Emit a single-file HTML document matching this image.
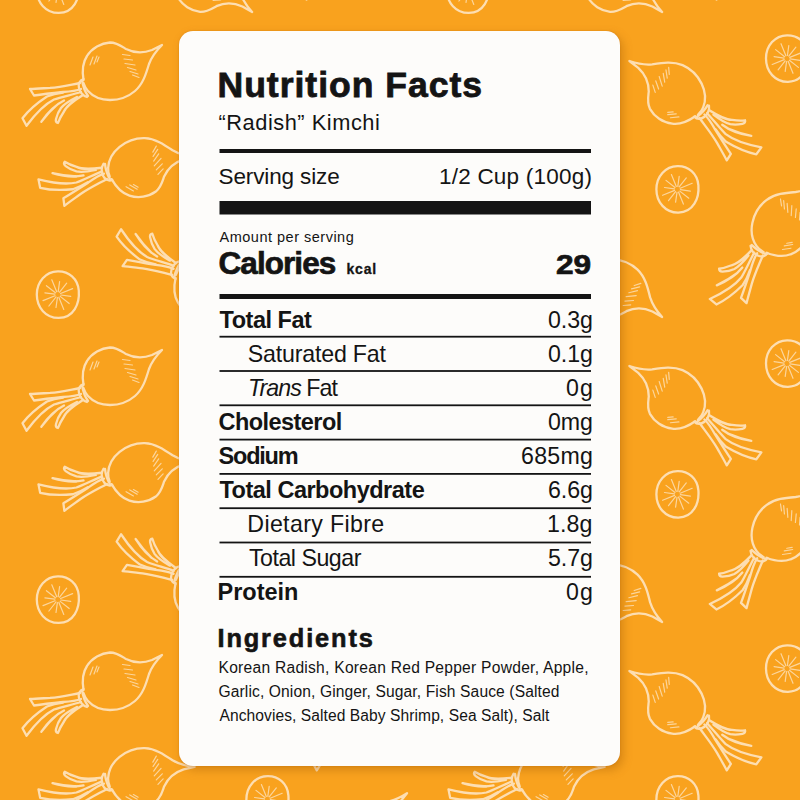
<!DOCTYPE html>
<html><head><meta charset="utf-8"><style>
html,body{margin:0;padding:0;width:800px;height:800px;overflow:hidden;background:#F9A21E;}
#bg{position:absolute;left:0;top:0;width:800px;height:800px;}
#card{position:absolute;left:179.4px;top:31px;width:441px;height:734.5px;background:#FDFCFA;border-radius:14px;
box-shadow:3px 4px 10px rgba(150,80,0,0.35),0 0 1.5px rgba(190,95,0,0.5);}
.t{position:absolute;font-family:"Liberation Sans",sans-serif;color:#141414;white-space:nowrap;line-height:1;}
.bar{position:absolute;left:219.5px;width:371.5px;background:#141414;}
</style></head><body>
<svg id="bg" width="800" height="800" viewBox="0 0 800 800"><style>#bg path{fill:none;stroke:#FDDEB2;stroke-width:2.3;stroke-linecap:round;stroke-linejoin:round} #bg path.h{stroke-width:1.2;opacity:0.85}</style><g transform="translate(111.0,72.0) rotate(0)"><path d="M-27.5,8 C-29,-1 -28,-10 -24,-16 C-19,-24 -10,-29 -1,-29.5 C6,-29.5 11,-25.5 15,-23 C22,-19.5 32,-18.5 41,-22 C45,-24 48,-25.5 51,-27 C46,-22 41,-16 38,-8 C35,2 32,12 24,19 C17,25 8,28 -1,28 C-10,28 -18,24.5 -23,19 C-25,17 -26.5,14 -27.5,11"/><path d="M-27.5,7 C-31.5,8 -33,12 -32,16 C-31,20 -28.5,23.5 -24,25 M-29,8.5 C-28,14 -26.5,19 -23,24"/><path d="M-31,11 C-42,13 -50,15 -61,15.9 C-68,16.3 -75,16.8 -81,17 L-77,23.5 C-70,22.5 -62,21.5 -48,20 C-40,19.5 -35,19 -30,17"/><path d="M-30,20 C-40,23 -50,25 -57,27.5 C-66,32 -75,41 -84.5,53.8 L-88.5,46.2 C-83,39 -77,33 -64,24.5 C-58,22 -52,21 -48,20.5"/><path d="M-47,28.5 C-56,33 -63,40 -69.7,49.8 C-66,45 -60,38 -53,32"/><path d="M-28,23 C-36,28 -44,33 -47,39.5 C-50,44 -52,48 -53,51 C-55,50.5 -55.5,49 -55,47 C-54,43 -53,40 -50,36 C-46,31 -40,28 -34,25"/><path class="h" d="M-21,-7 L-18,-15 M-17,-8 L-14,-16 M-14,-10 L-12,-15 M11.5,-17.5 L19,-16.5 M13,-13 L21.5,-12 M14,-8.5 L24,-7 M16.5,-4.5 L25,-2 M19,-0.5 L27,2 M21.5,3 L28,5.5"/></g><g transform="translate(111.0,377.0) rotate(0)"><path d="M-27.5,8 C-29,-1 -28,-10 -24,-16 C-19,-24 -10,-29 -1,-29.5 C6,-29.5 11,-25.5 15,-23 C22,-19.5 32,-18.5 41,-22 C45,-24 48,-25.5 51,-27 C46,-22 41,-16 38,-8 C35,2 32,12 24,19 C17,25 8,28 -1,28 C-10,28 -18,24.5 -23,19 C-25,17 -26.5,14 -27.5,11"/><path d="M-27.5,7 C-31.5,8 -33,12 -32,16 C-31,20 -28.5,23.5 -24,25 M-29,8.5 C-28,14 -26.5,19 -23,24"/><path d="M-31,11 C-42,13 -50,15 -61,15.9 C-68,16.3 -75,16.8 -81,17 L-77,23.5 C-70,22.5 -62,21.5 -48,20 C-40,19.5 -35,19 -30,17"/><path d="M-30,20 C-40,23 -50,25 -57,27.5 C-66,32 -75,41 -84.5,53.8 L-88.5,46.2 C-83,39 -77,33 -64,24.5 C-58,22 -52,21 -48,20.5"/><path d="M-47,28.5 C-56,33 -63,40 -69.7,49.8 C-66,45 -60,38 -53,32"/><path d="M-28,23 C-36,28 -44,33 -47,39.5 C-50,44 -52,48 -53,51 C-55,50.5 -55.5,49 -55,47 C-54,43 -53,40 -50,36 C-46,31 -40,28 -34,25"/><path class="h" d="M-21,-7 L-18,-15 M-17,-8 L-14,-16 M-14,-10 L-12,-15 M11.5,-17.5 L19,-16.5 M13,-13 L21.5,-12 M14,-8.5 L24,-7 M16.5,-4.5 L25,-2 M19,-0.5 L27,2 M21.5,3 L28,5.5"/></g><g transform="translate(111.0,682.0) rotate(0)"><path d="M-27.5,8 C-29,-1 -28,-10 -24,-16 C-19,-24 -10,-29 -1,-29.5 C6,-29.5 11,-25.5 15,-23 C22,-19.5 32,-18.5 41,-22 C45,-24 48,-25.5 51,-27 C46,-22 41,-16 38,-8 C35,2 32,12 24,19 C17,25 8,28 -1,28 C-10,28 -18,24.5 -23,19 C-25,17 -26.5,14 -27.5,11"/><path d="M-27.5,7 C-31.5,8 -33,12 -32,16 C-31,20 -28.5,23.5 -24,25 M-29,8.5 C-28,14 -26.5,19 -23,24"/><path d="M-31,11 C-42,13 -50,15 -61,15.9 C-68,16.3 -75,16.8 -81,17 L-77,23.5 C-70,22.5 -62,21.5 -48,20 C-40,19.5 -35,19 -30,17"/><path d="M-30,20 C-40,23 -50,25 -57,27.5 C-66,32 -75,41 -84.5,53.8 L-88.5,46.2 C-83,39 -77,33 -64,24.5 C-58,22 -52,21 -48,20.5"/><path d="M-47,28.5 C-56,33 -63,40 -69.7,49.8 C-66,45 -60,38 -53,32"/><path d="M-28,23 C-36,28 -44,33 -47,39.5 C-50,44 -52,48 -53,51 C-55,50.5 -55.5,49 -55,47 C-54,43 -53,40 -50,36 C-46,31 -40,28 -34,25"/><path class="h" d="M-21,-7 L-18,-15 M-17,-8 L-14,-16 M-14,-10 L-12,-15 M11.5,-17.5 L19,-16.5 M13,-13 L21.5,-12 M14,-8.5 L24,-7 M16.5,-4.5 L25,-2 M19,-0.5 L27,2 M21.5,3 L28,5.5"/></g><g transform="translate(521.0,72.0) rotate(0)"><path d="M-27.5,8 C-29,-1 -28,-10 -24,-16 C-19,-24 -10,-29 -1,-29.5 C6,-29.5 11,-25.5 15,-23 C22,-19.5 32,-18.5 41,-22 C45,-24 48,-25.5 51,-27 C46,-22 41,-16 38,-8 C35,2 32,12 24,19 C17,25 8,28 -1,28 C-10,28 -18,24.5 -23,19 C-25,17 -26.5,14 -27.5,11"/><path d="M-27.5,7 C-31.5,8 -33,12 -32,16 C-31,20 -28.5,23.5 -24,25 M-29,8.5 C-28,14 -26.5,19 -23,24"/><path d="M-31,11 C-42,13 -50,15 -61,15.9 C-68,16.3 -75,16.8 -81,17 L-77,23.5 C-70,22.5 -62,21.5 -48,20 C-40,19.5 -35,19 -30,17"/><path d="M-30,20 C-40,23 -50,25 -57,27.5 C-66,32 -75,41 -84.5,53.8 L-88.5,46.2 C-83,39 -77,33 -64,24.5 C-58,22 -52,21 -48,20.5"/><path d="M-47,28.5 C-56,33 -63,40 -69.7,49.8 C-66,45 -60,38 -53,32"/><path d="M-28,23 C-36,28 -44,33 -47,39.5 C-50,44 -52,48 -53,51 C-55,50.5 -55.5,49 -55,47 C-54,43 -53,40 -50,36 C-46,31 -40,28 -34,25"/><path class="h" d="M-21,-7 L-18,-15 M-17,-8 L-14,-16 M-14,-10 L-12,-15 M11.5,-17.5 L19,-16.5 M13,-13 L21.5,-12 M14,-8.5 L24,-7 M16.5,-4.5 L25,-2 M19,-0.5 L27,2 M21.5,3 L28,5.5"/></g><g transform="translate(521.0,377.0) rotate(0)"><path d="M-27.5,8 C-29,-1 -28,-10 -24,-16 C-19,-24 -10,-29 -1,-29.5 C6,-29.5 11,-25.5 15,-23 C22,-19.5 32,-18.5 41,-22 C45,-24 48,-25.5 51,-27 C46,-22 41,-16 38,-8 C35,2 32,12 24,19 C17,25 8,28 -1,28 C-10,28 -18,24.5 -23,19 C-25,17 -26.5,14 -27.5,11"/><path d="M-27.5,7 C-31.5,8 -33,12 -32,16 C-31,20 -28.5,23.5 -24,25 M-29,8.5 C-28,14 -26.5,19 -23,24"/><path d="M-31,11 C-42,13 -50,15 -61,15.9 C-68,16.3 -75,16.8 -81,17 L-77,23.5 C-70,22.5 -62,21.5 -48,20 C-40,19.5 -35,19 -30,17"/><path d="M-30,20 C-40,23 -50,25 -57,27.5 C-66,32 -75,41 -84.5,53.8 L-88.5,46.2 C-83,39 -77,33 -64,24.5 C-58,22 -52,21 -48,20.5"/><path d="M-47,28.5 C-56,33 -63,40 -69.7,49.8 C-66,45 -60,38 -53,32"/><path d="M-28,23 C-36,28 -44,33 -47,39.5 C-50,44 -52,48 -53,51 C-55,50.5 -55.5,49 -55,47 C-54,43 -53,40 -50,36 C-46,31 -40,28 -34,25"/><path class="h" d="M-21,-7 L-18,-15 M-17,-8 L-14,-16 M-14,-10 L-12,-15 M11.5,-17.5 L19,-16.5 M13,-13 L21.5,-12 M14,-8.5 L24,-7 M16.5,-4.5 L25,-2 M19,-0.5 L27,2 M21.5,3 L28,5.5"/></g><g transform="translate(521.0,682.0) rotate(0)"><path d="M-27.5,8 C-29,-1 -28,-10 -24,-16 C-19,-24 -10,-29 -1,-29.5 C6,-29.5 11,-25.5 15,-23 C22,-19.5 32,-18.5 41,-22 C45,-24 48,-25.5 51,-27 C46,-22 41,-16 38,-8 C35,2 32,12 24,19 C17,25 8,28 -1,28 C-10,28 -18,24.5 -23,19 C-25,17 -26.5,14 -27.5,11"/><path d="M-27.5,7 C-31.5,8 -33,12 -32,16 C-31,20 -28.5,23.5 -24,25 M-29,8.5 C-28,14 -26.5,19 -23,24"/><path d="M-31,11 C-42,13 -50,15 -61,15.9 C-68,16.3 -75,16.8 -81,17 L-77,23.5 C-70,22.5 -62,21.5 -48,20 C-40,19.5 -35,19 -30,17"/><path d="M-30,20 C-40,23 -50,25 -57,27.5 C-66,32 -75,41 -84.5,53.8 L-88.5,46.2 C-83,39 -77,33 -64,24.5 C-58,22 -52,21 -48,20.5"/><path d="M-47,28.5 C-56,33 -63,40 -69.7,49.8 C-66,45 -60,38 -53,32"/><path d="M-28,23 C-36,28 -44,33 -47,39.5 C-50,44 -52,48 -53,51 C-55,50.5 -55.5,49 -55,47 C-54,43 -53,40 -50,36 C-46,31 -40,28 -34,25"/><path class="h" d="M-21,-7 L-18,-15 M-17,-8 L-14,-16 M-14,-10 L-12,-15 M11.5,-17.5 L19,-16.5 M13,-13 L21.5,-12 M14,-8.5 L24,-7 M16.5,-4.5 L25,-2 M19,-0.5 L27,2 M21.5,3 L28,5.5"/></g><g transform="translate(138.0,168.0) rotate(-39) scale(1,-1)"><path d="M-27.5,8 C-29,-1 -28,-10 -24,-16 C-19,-24 -10,-29 -1,-29.5 C6,-29.5 11,-25.5 15,-23 C22,-19.5 32,-18.5 41,-22 C45,-24 48,-25.5 51,-27 C46,-22 41,-16 38,-8 C35,2 32,12 24,19 C17,25 8,28 -1,28 C-10,28 -18,24.5 -23,19 C-25,17 -26.5,14 -27.5,11"/><path d="M-27.5,7 C-31.5,8 -33,12 -32,16 C-31,20 -28.5,23.5 -24,25 M-29,8.5 C-28,14 -26.5,19 -23,24"/><path d="M-31,11 C-42,13 -50,15 -61,15.9 C-68,16.3 -75,16.8 -81,17 L-77,23.5 C-70,22.5 -62,21.5 -48,20 C-40,19.5 -35,19 -30,17"/><path d="M-30,20 C-40,23 -50,25 -57,27.5 C-66,32 -75,41 -84.5,53.8 L-88.5,46.2 C-83,39 -77,33 -64,24.5 C-58,22 -52,21 -48,20.5"/><path d="M-47,28.5 C-56,33 -63,40 -69.7,49.8 C-66,45 -60,38 -53,32"/><path d="M-28,23 C-36,28 -44,33 -47,39.5 C-50,44 -52,48 -53,51 C-55,50.5 -55.5,49 -55,47 C-54,43 -53,40 -50,36 C-46,31 -40,28 -34,25"/><path class="h" d="M-21,-7 L-18,-15 M-17,-8 L-14,-16 M-14,-10 L-12,-15 M11.5,-17.5 L19,-16.5 M13,-13 L21.5,-12 M14,-8.5 L24,-7 M16.5,-4.5 L25,-2 M19,-0.5 L27,2 M21.5,3 L28,5.5"/></g><g transform="translate(138.0,473.0) rotate(-39) scale(1,-1)"><path d="M-27.5,8 C-29,-1 -28,-10 -24,-16 C-19,-24 -10,-29 -1,-29.5 C6,-29.5 11,-25.5 15,-23 C22,-19.5 32,-18.5 41,-22 C45,-24 48,-25.5 51,-27 C46,-22 41,-16 38,-8 C35,2 32,12 24,19 C17,25 8,28 -1,28 C-10,28 -18,24.5 -23,19 C-25,17 -26.5,14 -27.5,11"/><path d="M-27.5,7 C-31.5,8 -33,12 -32,16 C-31,20 -28.5,23.5 -24,25 M-29,8.5 C-28,14 -26.5,19 -23,24"/><path d="M-31,11 C-42,13 -50,15 -61,15.9 C-68,16.3 -75,16.8 -81,17 L-77,23.5 C-70,22.5 -62,21.5 -48,20 C-40,19.5 -35,19 -30,17"/><path d="M-30,20 C-40,23 -50,25 -57,27.5 C-66,32 -75,41 -84.5,53.8 L-88.5,46.2 C-83,39 -77,33 -64,24.5 C-58,22 -52,21 -48,20.5"/><path d="M-47,28.5 C-56,33 -63,40 -69.7,49.8 C-66,45 -60,38 -53,32"/><path d="M-28,23 C-36,28 -44,33 -47,39.5 C-50,44 -52,48 -53,51 C-55,50.5 -55.5,49 -55,47 C-54,43 -53,40 -50,36 C-46,31 -40,28 -34,25"/><path class="h" d="M-21,-7 L-18,-15 M-17,-8 L-14,-16 M-14,-10 L-12,-15 M11.5,-17.5 L19,-16.5 M13,-13 L21.5,-12 M14,-8.5 L24,-7 M16.5,-4.5 L25,-2 M19,-0.5 L27,2 M21.5,3 L28,5.5"/></g><g transform="translate(138.0,778.0) rotate(-39) scale(1,-1)"><path d="M-27.5,8 C-29,-1 -28,-10 -24,-16 C-19,-24 -10,-29 -1,-29.5 C6,-29.5 11,-25.5 15,-23 C22,-19.5 32,-18.5 41,-22 C45,-24 48,-25.5 51,-27 C46,-22 41,-16 38,-8 C35,2 32,12 24,19 C17,25 8,28 -1,28 C-10,28 -18,24.5 -23,19 C-25,17 -26.5,14 -27.5,11"/><path d="M-27.5,7 C-31.5,8 -33,12 -32,16 C-31,20 -28.5,23.5 -24,25 M-29,8.5 C-28,14 -26.5,19 -23,24"/><path d="M-31,11 C-42,13 -50,15 -61,15.9 C-68,16.3 -75,16.8 -81,17 L-77,23.5 C-70,22.5 -62,21.5 -48,20 C-40,19.5 -35,19 -30,17"/><path d="M-30,20 C-40,23 -50,25 -57,27.5 C-66,32 -75,41 -84.5,53.8 L-88.5,46.2 C-83,39 -77,33 -64,24.5 C-58,22 -52,21 -48,20.5"/><path d="M-47,28.5 C-56,33 -63,40 -69.7,49.8 C-66,45 -60,38 -53,32"/><path d="M-28,23 C-36,28 -44,33 -47,39.5 C-50,44 -52,48 -53,51 C-55,50.5 -55.5,49 -55,47 C-54,43 -53,40 -50,36 C-46,31 -40,28 -34,25"/><path class="h" d="M-21,-7 L-18,-15 M-17,-8 L-14,-16 M-14,-10 L-12,-15 M11.5,-17.5 L19,-16.5 M13,-13 L21.5,-12 M14,-8.5 L24,-7 M16.5,-4.5 L25,-2 M19,-0.5 L27,2 M21.5,3 L28,5.5"/></g><g transform="translate(548.0,168.0) rotate(-39) scale(1,-1)"><path d="M-27.5,8 C-29,-1 -28,-10 -24,-16 C-19,-24 -10,-29 -1,-29.5 C6,-29.5 11,-25.5 15,-23 C22,-19.5 32,-18.5 41,-22 C45,-24 48,-25.5 51,-27 C46,-22 41,-16 38,-8 C35,2 32,12 24,19 C17,25 8,28 -1,28 C-10,28 -18,24.5 -23,19 C-25,17 -26.5,14 -27.5,11"/><path d="M-27.5,7 C-31.5,8 -33,12 -32,16 C-31,20 -28.5,23.5 -24,25 M-29,8.5 C-28,14 -26.5,19 -23,24"/><path d="M-31,11 C-42,13 -50,15 -61,15.9 C-68,16.3 -75,16.8 -81,17 L-77,23.5 C-70,22.5 -62,21.5 -48,20 C-40,19.5 -35,19 -30,17"/><path d="M-30,20 C-40,23 -50,25 -57,27.5 C-66,32 -75,41 -84.5,53.8 L-88.5,46.2 C-83,39 -77,33 -64,24.5 C-58,22 -52,21 -48,20.5"/><path d="M-47,28.5 C-56,33 -63,40 -69.7,49.8 C-66,45 -60,38 -53,32"/><path d="M-28,23 C-36,28 -44,33 -47,39.5 C-50,44 -52,48 -53,51 C-55,50.5 -55.5,49 -55,47 C-54,43 -53,40 -50,36 C-46,31 -40,28 -34,25"/><path class="h" d="M-21,-7 L-18,-15 M-17,-8 L-14,-16 M-14,-10 L-12,-15 M11.5,-17.5 L19,-16.5 M13,-13 L21.5,-12 M14,-8.5 L24,-7 M16.5,-4.5 L25,-2 M19,-0.5 L27,2 M21.5,3 L28,5.5"/></g><g transform="translate(548.0,473.0) rotate(-39) scale(1,-1)"><path d="M-27.5,8 C-29,-1 -28,-10 -24,-16 C-19,-24 -10,-29 -1,-29.5 C6,-29.5 11,-25.5 15,-23 C22,-19.5 32,-18.5 41,-22 C45,-24 48,-25.5 51,-27 C46,-22 41,-16 38,-8 C35,2 32,12 24,19 C17,25 8,28 -1,28 C-10,28 -18,24.5 -23,19 C-25,17 -26.5,14 -27.5,11"/><path d="M-27.5,7 C-31.5,8 -33,12 -32,16 C-31,20 -28.5,23.5 -24,25 M-29,8.5 C-28,14 -26.5,19 -23,24"/><path d="M-31,11 C-42,13 -50,15 -61,15.9 C-68,16.3 -75,16.8 -81,17 L-77,23.5 C-70,22.5 -62,21.5 -48,20 C-40,19.5 -35,19 -30,17"/><path d="M-30,20 C-40,23 -50,25 -57,27.5 C-66,32 -75,41 -84.5,53.8 L-88.5,46.2 C-83,39 -77,33 -64,24.5 C-58,22 -52,21 -48,20.5"/><path d="M-47,28.5 C-56,33 -63,40 -69.7,49.8 C-66,45 -60,38 -53,32"/><path d="M-28,23 C-36,28 -44,33 -47,39.5 C-50,44 -52,48 -53,51 C-55,50.5 -55.5,49 -55,47 C-54,43 -53,40 -50,36 C-46,31 -40,28 -34,25"/><path class="h" d="M-21,-7 L-18,-15 M-17,-8 L-14,-16 M-14,-10 L-12,-15 M11.5,-17.5 L19,-16.5 M13,-13 L21.5,-12 M14,-8.5 L24,-7 M16.5,-4.5 L25,-2 M19,-0.5 L27,2 M21.5,3 L28,5.5"/></g><g transform="translate(548.0,778.0) rotate(-39) scale(1,-1)"><path d="M-27.5,8 C-29,-1 -28,-10 -24,-16 C-19,-24 -10,-29 -1,-29.5 C6,-29.5 11,-25.5 15,-23 C22,-19.5 32,-18.5 41,-22 C45,-24 48,-25.5 51,-27 C46,-22 41,-16 38,-8 C35,2 32,12 24,19 C17,25 8,28 -1,28 C-10,28 -18,24.5 -23,19 C-25,17 -26.5,14 -27.5,11"/><path d="M-27.5,7 C-31.5,8 -33,12 -32,16 C-31,20 -28.5,23.5 -24,25 M-29,8.5 C-28,14 -26.5,19 -23,24"/><path d="M-31,11 C-42,13 -50,15 -61,15.9 C-68,16.3 -75,16.8 -81,17 L-77,23.5 C-70,22.5 -62,21.5 -48,20 C-40,19.5 -35,19 -30,17"/><path d="M-30,20 C-40,23 -50,25 -57,27.5 C-66,32 -75,41 -84.5,53.8 L-88.5,46.2 C-83,39 -77,33 -64,24.5 C-58,22 -52,21 -48,20.5"/><path d="M-47,28.5 C-56,33 -63,40 -69.7,49.8 C-66,45 -60,38 -53,32"/><path d="M-28,23 C-36,28 -44,33 -47,39.5 C-50,44 -52,48 -53,51 C-55,50.5 -55.5,49 -55,47 C-54,43 -53,40 -50,36 C-46,31 -40,28 -34,25"/><path class="h" d="M-21,-7 L-18,-15 M-17,-8 L-14,-16 M-14,-10 L-12,-15 M11.5,-17.5 L19,-16.5 M13,-13 L21.5,-12 M14,-8.5 L24,-7 M16.5,-4.5 L25,-2 M19,-0.5 L27,2 M21.5,3 L28,5.5"/></g><g transform="translate(202.6,-17.6) rotate(3) scale(1,-1)"><path d="M-27.5,8 C-29,-1 -28,-10 -24,-16 C-19,-24 -10,-29 -1,-29.5 C6,-29.5 11,-25.5 15,-23 C22,-19.5 32,-18.5 41,-22 C45,-24 48,-25.5 51,-27 C46,-22 41,-16 38,-8 C35,2 32,12 24,19 C17,25 8,28 -1,28 C-10,28 -18,24.5 -23,19 C-25,17 -26.5,14 -27.5,11"/><path d="M-27.5,7 C-31.5,8 -33,12 -32,16 C-31,20 -28.5,23.5 -24,25 M-29,8.5 C-28,14 -26.5,19 -23,24"/><path d="M-31,11 C-42,13 -50,15 -61,15.9 C-68,16.3 -75,16.8 -81,17 L-77,23.5 C-70,22.5 -62,21.5 -48,20 C-40,19.5 -35,19 -30,17"/><path d="M-30,20 C-40,23 -50,25 -57,27.5 C-66,32 -75,41 -84.5,53.8 L-88.5,46.2 C-83,39 -77,33 -64,24.5 C-58,22 -52,21 -48,20.5"/><path d="M-47,28.5 C-56,33 -63,40 -69.7,49.8 C-66,45 -60,38 -53,32"/><path d="M-28,23 C-36,28 -44,33 -47,39.5 C-50,44 -52,48 -53,51 C-55,50.5 -55.5,49 -55,47 C-54,43 -53,40 -50,36 C-46,31 -40,28 -34,25"/><path class="h" d="M-21,-7 L-18,-15 M-17,-8 L-14,-16 M-14,-10 L-12,-15 M11.5,-17.5 L19,-16.5 M13,-13 L21.5,-12 M14,-8.5 L24,-7 M16.5,-4.5 L25,-2 M19,-0.5 L27,2 M21.5,3 L28,5.5"/></g><g transform="translate(202.6,287.4) rotate(3) scale(1,-1)"><path d="M-27.5,8 C-29,-1 -28,-10 -24,-16 C-19,-24 -10,-29 -1,-29.5 C6,-29.5 11,-25.5 15,-23 C22,-19.5 32,-18.5 41,-22 C45,-24 48,-25.5 51,-27 C46,-22 41,-16 38,-8 C35,2 32,12 24,19 C17,25 8,28 -1,28 C-10,28 -18,24.5 -23,19 C-25,17 -26.5,14 -27.5,11"/><path d="M-27.5,7 C-31.5,8 -33,12 -32,16 C-31,20 -28.5,23.5 -24,25 M-29,8.5 C-28,14 -26.5,19 -23,24"/><path d="M-31,11 C-42,13 -50,15 -61,15.9 C-68,16.3 -75,16.8 -81,17 L-77,23.5 C-70,22.5 -62,21.5 -48,20 C-40,19.5 -35,19 -30,17"/><path d="M-30,20 C-40,23 -50,25 -57,27.5 C-66,32 -75,41 -84.5,53.8 L-88.5,46.2 C-83,39 -77,33 -64,24.5 C-58,22 -52,21 -48,20.5"/><path d="M-47,28.5 C-56,33 -63,40 -69.7,49.8 C-66,45 -60,38 -53,32"/><path d="M-28,23 C-36,28 -44,33 -47,39.5 C-50,44 -52,48 -53,51 C-55,50.5 -55.5,49 -55,47 C-54,43 -53,40 -50,36 C-46,31 -40,28 -34,25"/><path class="h" d="M-21,-7 L-18,-15 M-17,-8 L-14,-16 M-14,-10 L-12,-15 M11.5,-17.5 L19,-16.5 M13,-13 L21.5,-12 M14,-8.5 L24,-7 M16.5,-4.5 L25,-2 M19,-0.5 L27,2 M21.5,3 L28,5.5"/></g><g transform="translate(202.6,592.4) rotate(3) scale(1,-1)"><path d="M-27.5,8 C-29,-1 -28,-10 -24,-16 C-19,-24 -10,-29 -1,-29.5 C6,-29.5 11,-25.5 15,-23 C22,-19.5 32,-18.5 41,-22 C45,-24 48,-25.5 51,-27 C46,-22 41,-16 38,-8 C35,2 32,12 24,19 C17,25 8,28 -1,28 C-10,28 -18,24.5 -23,19 C-25,17 -26.5,14 -27.5,11"/><path d="M-27.5,7 C-31.5,8 -33,12 -32,16 C-31,20 -28.5,23.5 -24,25 M-29,8.5 C-28,14 -26.5,19 -23,24"/><path d="M-31,11 C-42,13 -50,15 -61,15.9 C-68,16.3 -75,16.8 -81,17 L-77,23.5 C-70,22.5 -62,21.5 -48,20 C-40,19.5 -35,19 -30,17"/><path d="M-30,20 C-40,23 -50,25 -57,27.5 C-66,32 -75,41 -84.5,53.8 L-88.5,46.2 C-83,39 -77,33 -64,24.5 C-58,22 -52,21 -48,20.5"/><path d="M-47,28.5 C-56,33 -63,40 -69.7,49.8 C-66,45 -60,38 -53,32"/><path d="M-28,23 C-36,28 -44,33 -47,39.5 C-50,44 -52,48 -53,51 C-55,50.5 -55.5,49 -55,47 C-54,43 -53,40 -50,36 C-46,31 -40,28 -34,25"/><path class="h" d="M-21,-7 L-18,-15 M-17,-8 L-14,-16 M-14,-10 L-12,-15 M11.5,-17.5 L19,-16.5 M13,-13 L21.5,-12 M14,-8.5 L24,-7 M16.5,-4.5 L25,-2 M19,-0.5 L27,2 M21.5,3 L28,5.5"/></g><g transform="translate(202.6,897.4) rotate(3) scale(1,-1)"><path d="M-27.5,8 C-29,-1 -28,-10 -24,-16 C-19,-24 -10,-29 -1,-29.5 C6,-29.5 11,-25.5 15,-23 C22,-19.5 32,-18.5 41,-22 C45,-24 48,-25.5 51,-27 C46,-22 41,-16 38,-8 C35,2 32,12 24,19 C17,25 8,28 -1,28 C-10,28 -18,24.5 -23,19 C-25,17 -26.5,14 -27.5,11"/><path d="M-27.5,7 C-31.5,8 -33,12 -32,16 C-31,20 -28.5,23.5 -24,25 M-29,8.5 C-28,14 -26.5,19 -23,24"/><path d="M-31,11 C-42,13 -50,15 -61,15.9 C-68,16.3 -75,16.8 -81,17 L-77,23.5 C-70,22.5 -62,21.5 -48,20 C-40,19.5 -35,19 -30,17"/><path d="M-30,20 C-40,23 -50,25 -57,27.5 C-66,32 -75,41 -84.5,53.8 L-88.5,46.2 C-83,39 -77,33 -64,24.5 C-58,22 -52,21 -48,20.5"/><path d="M-47,28.5 C-56,33 -63,40 -69.7,49.8 C-66,45 -60,38 -53,32"/><path d="M-28,23 C-36,28 -44,33 -47,39.5 C-50,44 -52,48 -53,51 C-55,50.5 -55.5,49 -55,47 C-54,43 -53,40 -50,36 C-46,31 -40,28 -34,25"/><path class="h" d="M-21,-7 L-18,-15 M-17,-8 L-14,-16 M-14,-10 L-12,-15 M11.5,-17.5 L19,-16.5 M13,-13 L21.5,-12 M14,-8.5 L24,-7 M16.5,-4.5 L25,-2 M19,-0.5 L27,2 M21.5,3 L28,5.5"/></g><g transform="translate(612.6,-17.6) rotate(3) scale(1,-1)"><path d="M-27.5,8 C-29,-1 -28,-10 -24,-16 C-19,-24 -10,-29 -1,-29.5 C6,-29.5 11,-25.5 15,-23 C22,-19.5 32,-18.5 41,-22 C45,-24 48,-25.5 51,-27 C46,-22 41,-16 38,-8 C35,2 32,12 24,19 C17,25 8,28 -1,28 C-10,28 -18,24.5 -23,19 C-25,17 -26.5,14 -27.5,11"/><path d="M-27.5,7 C-31.5,8 -33,12 -32,16 C-31,20 -28.5,23.5 -24,25 M-29,8.5 C-28,14 -26.5,19 -23,24"/><path d="M-31,11 C-42,13 -50,15 -61,15.9 C-68,16.3 -75,16.8 -81,17 L-77,23.5 C-70,22.5 -62,21.5 -48,20 C-40,19.5 -35,19 -30,17"/><path d="M-30,20 C-40,23 -50,25 -57,27.5 C-66,32 -75,41 -84.5,53.8 L-88.5,46.2 C-83,39 -77,33 -64,24.5 C-58,22 -52,21 -48,20.5"/><path d="M-47,28.5 C-56,33 -63,40 -69.7,49.8 C-66,45 -60,38 -53,32"/><path d="M-28,23 C-36,28 -44,33 -47,39.5 C-50,44 -52,48 -53,51 C-55,50.5 -55.5,49 -55,47 C-54,43 -53,40 -50,36 C-46,31 -40,28 -34,25"/><path class="h" d="M-21,-7 L-18,-15 M-17,-8 L-14,-16 M-14,-10 L-12,-15 M11.5,-17.5 L19,-16.5 M13,-13 L21.5,-12 M14,-8.5 L24,-7 M16.5,-4.5 L25,-2 M19,-0.5 L27,2 M21.5,3 L28,5.5"/></g><g transform="translate(612.6,287.4) rotate(3) scale(1,-1)"><path d="M-27.5,8 C-29,-1 -28,-10 -24,-16 C-19,-24 -10,-29 -1,-29.5 C6,-29.5 11,-25.5 15,-23 C22,-19.5 32,-18.5 41,-22 C45,-24 48,-25.5 51,-27 C46,-22 41,-16 38,-8 C35,2 32,12 24,19 C17,25 8,28 -1,28 C-10,28 -18,24.5 -23,19 C-25,17 -26.5,14 -27.5,11"/><path d="M-27.5,7 C-31.5,8 -33,12 -32,16 C-31,20 -28.5,23.5 -24,25 M-29,8.5 C-28,14 -26.5,19 -23,24"/><path d="M-31,11 C-42,13 -50,15 -61,15.9 C-68,16.3 -75,16.8 -81,17 L-77,23.5 C-70,22.5 -62,21.5 -48,20 C-40,19.5 -35,19 -30,17"/><path d="M-30,20 C-40,23 -50,25 -57,27.5 C-66,32 -75,41 -84.5,53.8 L-88.5,46.2 C-83,39 -77,33 -64,24.5 C-58,22 -52,21 -48,20.5"/><path d="M-47,28.5 C-56,33 -63,40 -69.7,49.8 C-66,45 -60,38 -53,32"/><path d="M-28,23 C-36,28 -44,33 -47,39.5 C-50,44 -52,48 -53,51 C-55,50.5 -55.5,49 -55,47 C-54,43 -53,40 -50,36 C-46,31 -40,28 -34,25"/><path class="h" d="M-21,-7 L-18,-15 M-17,-8 L-14,-16 M-14,-10 L-12,-15 M11.5,-17.5 L19,-16.5 M13,-13 L21.5,-12 M14,-8.5 L24,-7 M16.5,-4.5 L25,-2 M19,-0.5 L27,2 M21.5,3 L28,5.5"/></g><g transform="translate(612.6,592.4) rotate(3) scale(1,-1)"><path d="M-27.5,8 C-29,-1 -28,-10 -24,-16 C-19,-24 -10,-29 -1,-29.5 C6,-29.5 11,-25.5 15,-23 C22,-19.5 32,-18.5 41,-22 C45,-24 48,-25.5 51,-27 C46,-22 41,-16 38,-8 C35,2 32,12 24,19 C17,25 8,28 -1,28 C-10,28 -18,24.5 -23,19 C-25,17 -26.5,14 -27.5,11"/><path d="M-27.5,7 C-31.5,8 -33,12 -32,16 C-31,20 -28.5,23.5 -24,25 M-29,8.5 C-28,14 -26.5,19 -23,24"/><path d="M-31,11 C-42,13 -50,15 -61,15.9 C-68,16.3 -75,16.8 -81,17 L-77,23.5 C-70,22.5 -62,21.5 -48,20 C-40,19.5 -35,19 -30,17"/><path d="M-30,20 C-40,23 -50,25 -57,27.5 C-66,32 -75,41 -84.5,53.8 L-88.5,46.2 C-83,39 -77,33 -64,24.5 C-58,22 -52,21 -48,20.5"/><path d="M-47,28.5 C-56,33 -63,40 -69.7,49.8 C-66,45 -60,38 -53,32"/><path d="M-28,23 C-36,28 -44,33 -47,39.5 C-50,44 -52,48 -53,51 C-55,50.5 -55.5,49 -55,47 C-54,43 -53,40 -50,36 C-46,31 -40,28 -34,25"/><path class="h" d="M-21,-7 L-18,-15 M-17,-8 L-14,-16 M-14,-10 L-12,-15 M11.5,-17.5 L19,-16.5 M13,-13 L21.5,-12 M14,-8.5 L24,-7 M16.5,-4.5 L25,-2 M19,-0.5 L27,2 M21.5,3 L28,5.5"/></g><g transform="translate(612.6,897.4) rotate(3) scale(1,-1)"><path d="M-27.5,8 C-29,-1 -28,-10 -24,-16 C-19,-24 -10,-29 -1,-29.5 C6,-29.5 11,-25.5 15,-23 C22,-19.5 32,-18.5 41,-22 C45,-24 48,-25.5 51,-27 C46,-22 41,-16 38,-8 C35,2 32,12 24,19 C17,25 8,28 -1,28 C-10,28 -18,24.5 -23,19 C-25,17 -26.5,14 -27.5,11"/><path d="M-27.5,7 C-31.5,8 -33,12 -32,16 C-31,20 -28.5,23.5 -24,25 M-29,8.5 C-28,14 -26.5,19 -23,24"/><path d="M-31,11 C-42,13 -50,15 -61,15.9 C-68,16.3 -75,16.8 -81,17 L-77,23.5 C-70,22.5 -62,21.5 -48,20 C-40,19.5 -35,19 -30,17"/><path d="M-30,20 C-40,23 -50,25 -57,27.5 C-66,32 -75,41 -84.5,53.8 L-88.5,46.2 C-83,39 -77,33 -64,24.5 C-58,22 -52,21 -48,20.5"/><path d="M-47,28.5 C-56,33 -63,40 -69.7,49.8 C-66,45 -60,38 -53,32"/><path d="M-28,23 C-36,28 -44,33 -47,39.5 C-50,44 -52,48 -53,51 C-55,50.5 -55.5,49 -55,47 C-54,43 -53,40 -50,36 C-46,31 -40,28 -34,25"/><path class="h" d="M-21,-7 L-18,-15 M-17,-8 L-14,-16 M-14,-10 L-12,-15 M11.5,-17.5 L19,-16.5 M13,-13 L21.5,-12 M14,-8.5 L24,-7 M16.5,-4.5 L25,-2 M19,-0.5 L27,2 M21.5,3 L28,5.5"/></g><g transform="translate(266.0,95.0) rotate(-116)"><path d="M-27.5,8 C-29,-1 -28,-10 -24,-16 C-19,-24 -10,-29 -1,-29.5 C6,-29.5 11,-25.5 15,-23 C22,-19.5 32,-18.5 41,-22 C45,-24 48,-25.5 51,-27 C46,-22 41,-16 38,-8 C35,2 32,12 24,19 C17,25 8,28 -1,28 C-10,28 -18,24.5 -23,19 C-25,17 -26.5,14 -27.5,11"/><path d="M-27.5,7 C-31.5,8 -33,12 -32,16 C-31,20 -28.5,23.5 -24,25 M-29,8.5 C-28,14 -26.5,19 -23,24"/><path d="M-31,11 C-42,13 -50,15 -61,15.9 C-68,16.3 -75,16.8 -81,17 L-77,23.5 C-70,22.5 -62,21.5 -48,20 C-40,19.5 -35,19 -30,17"/><path d="M-30,20 C-40,23 -50,25 -57,27.5 C-66,32 -75,41 -84.5,53.8 L-88.5,46.2 C-83,39 -77,33 -64,24.5 C-58,22 -52,21 -48,20.5"/><path d="M-47,28.5 C-56,33 -63,40 -69.7,49.8 C-66,45 -60,38 -53,32"/><path d="M-28,23 C-36,28 -44,33 -47,39.5 C-50,44 -52,48 -53,51 C-55,50.5 -55.5,49 -55,47 C-54,43 -53,40 -50,36 C-46,31 -40,28 -34,25"/><path class="h" d="M-21,-7 L-18,-15 M-17,-8 L-14,-16 M-14,-10 L-12,-15 M11.5,-17.5 L19,-16.5 M13,-13 L21.5,-12 M14,-8.5 L24,-7 M16.5,-4.5 L25,-2 M19,-0.5 L27,2 M21.5,3 L28,5.5"/></g><g transform="translate(266.0,400.0) rotate(-116)"><path d="M-27.5,8 C-29,-1 -28,-10 -24,-16 C-19,-24 -10,-29 -1,-29.5 C6,-29.5 11,-25.5 15,-23 C22,-19.5 32,-18.5 41,-22 C45,-24 48,-25.5 51,-27 C46,-22 41,-16 38,-8 C35,2 32,12 24,19 C17,25 8,28 -1,28 C-10,28 -18,24.5 -23,19 C-25,17 -26.5,14 -27.5,11"/><path d="M-27.5,7 C-31.5,8 -33,12 -32,16 C-31,20 -28.5,23.5 -24,25 M-29,8.5 C-28,14 -26.5,19 -23,24"/><path d="M-31,11 C-42,13 -50,15 -61,15.9 C-68,16.3 -75,16.8 -81,17 L-77,23.5 C-70,22.5 -62,21.5 -48,20 C-40,19.5 -35,19 -30,17"/><path d="M-30,20 C-40,23 -50,25 -57,27.5 C-66,32 -75,41 -84.5,53.8 L-88.5,46.2 C-83,39 -77,33 -64,24.5 C-58,22 -52,21 -48,20.5"/><path d="M-47,28.5 C-56,33 -63,40 -69.7,49.8 C-66,45 -60,38 -53,32"/><path d="M-28,23 C-36,28 -44,33 -47,39.5 C-50,44 -52,48 -53,51 C-55,50.5 -55.5,49 -55,47 C-54,43 -53,40 -50,36 C-46,31 -40,28 -34,25"/><path class="h" d="M-21,-7 L-18,-15 M-17,-8 L-14,-16 M-14,-10 L-12,-15 M11.5,-17.5 L19,-16.5 M13,-13 L21.5,-12 M14,-8.5 L24,-7 M16.5,-4.5 L25,-2 M19,-0.5 L27,2 M21.5,3 L28,5.5"/></g><g transform="translate(266.0,705.0) rotate(-116)"><path d="M-27.5,8 C-29,-1 -28,-10 -24,-16 C-19,-24 -10,-29 -1,-29.5 C6,-29.5 11,-25.5 15,-23 C22,-19.5 32,-18.5 41,-22 C45,-24 48,-25.5 51,-27 C46,-22 41,-16 38,-8 C35,2 32,12 24,19 C17,25 8,28 -1,28 C-10,28 -18,24.5 -23,19 C-25,17 -26.5,14 -27.5,11"/><path d="M-27.5,7 C-31.5,8 -33,12 -32,16 C-31,20 -28.5,23.5 -24,25 M-29,8.5 C-28,14 -26.5,19 -23,24"/><path d="M-31,11 C-42,13 -50,15 -61,15.9 C-68,16.3 -75,16.8 -81,17 L-77,23.5 C-70,22.5 -62,21.5 -48,20 C-40,19.5 -35,19 -30,17"/><path d="M-30,20 C-40,23 -50,25 -57,27.5 C-66,32 -75,41 -84.5,53.8 L-88.5,46.2 C-83,39 -77,33 -64,24.5 C-58,22 -52,21 -48,20.5"/><path d="M-47,28.5 C-56,33 -63,40 -69.7,49.8 C-66,45 -60,38 -53,32"/><path d="M-28,23 C-36,28 -44,33 -47,39.5 C-50,44 -52,48 -53,51 C-55,50.5 -55.5,49 -55,47 C-54,43 -53,40 -50,36 C-46,31 -40,28 -34,25"/><path class="h" d="M-21,-7 L-18,-15 M-17,-8 L-14,-16 M-14,-10 L-12,-15 M11.5,-17.5 L19,-16.5 M13,-13 L21.5,-12 M14,-8.5 L24,-7 M16.5,-4.5 L25,-2 M19,-0.5 L27,2 M21.5,3 L28,5.5"/></g><g transform="translate(676.0,95.0) rotate(-116)"><path d="M-27.5,8 C-29,-1 -28,-10 -24,-16 C-19,-24 -10,-29 -1,-29.5 C6,-29.5 11,-25.5 15,-23 C22,-19.5 32,-18.5 41,-22 C45,-24 48,-25.5 51,-27 C46,-22 41,-16 38,-8 C35,2 32,12 24,19 C17,25 8,28 -1,28 C-10,28 -18,24.5 -23,19 C-25,17 -26.5,14 -27.5,11"/><path d="M-27.5,7 C-31.5,8 -33,12 -32,16 C-31,20 -28.5,23.5 -24,25 M-29,8.5 C-28,14 -26.5,19 -23,24"/><path d="M-31,11 C-42,13 -50,15 -61,15.9 C-68,16.3 -75,16.8 -81,17 L-77,23.5 C-70,22.5 -62,21.5 -48,20 C-40,19.5 -35,19 -30,17"/><path d="M-30,20 C-40,23 -50,25 -57,27.5 C-66,32 -75,41 -84.5,53.8 L-88.5,46.2 C-83,39 -77,33 -64,24.5 C-58,22 -52,21 -48,20.5"/><path d="M-47,28.5 C-56,33 -63,40 -69.7,49.8 C-66,45 -60,38 -53,32"/><path d="M-28,23 C-36,28 -44,33 -47,39.5 C-50,44 -52,48 -53,51 C-55,50.5 -55.5,49 -55,47 C-54,43 -53,40 -50,36 C-46,31 -40,28 -34,25"/><path class="h" d="M-21,-7 L-18,-15 M-17,-8 L-14,-16 M-14,-10 L-12,-15 M11.5,-17.5 L19,-16.5 M13,-13 L21.5,-12 M14,-8.5 L24,-7 M16.5,-4.5 L25,-2 M19,-0.5 L27,2 M21.5,3 L28,5.5"/></g><g transform="translate(676.0,400.0) rotate(-116)"><path d="M-27.5,8 C-29,-1 -28,-10 -24,-16 C-19,-24 -10,-29 -1,-29.5 C6,-29.5 11,-25.5 15,-23 C22,-19.5 32,-18.5 41,-22 C45,-24 48,-25.5 51,-27 C46,-22 41,-16 38,-8 C35,2 32,12 24,19 C17,25 8,28 -1,28 C-10,28 -18,24.5 -23,19 C-25,17 -26.5,14 -27.5,11"/><path d="M-27.5,7 C-31.5,8 -33,12 -32,16 C-31,20 -28.5,23.5 -24,25 M-29,8.5 C-28,14 -26.5,19 -23,24"/><path d="M-31,11 C-42,13 -50,15 -61,15.9 C-68,16.3 -75,16.8 -81,17 L-77,23.5 C-70,22.5 -62,21.5 -48,20 C-40,19.5 -35,19 -30,17"/><path d="M-30,20 C-40,23 -50,25 -57,27.5 C-66,32 -75,41 -84.5,53.8 L-88.5,46.2 C-83,39 -77,33 -64,24.5 C-58,22 -52,21 -48,20.5"/><path d="M-47,28.5 C-56,33 -63,40 -69.7,49.8 C-66,45 -60,38 -53,32"/><path d="M-28,23 C-36,28 -44,33 -47,39.5 C-50,44 -52,48 -53,51 C-55,50.5 -55.5,49 -55,47 C-54,43 -53,40 -50,36 C-46,31 -40,28 -34,25"/><path class="h" d="M-21,-7 L-18,-15 M-17,-8 L-14,-16 M-14,-10 L-12,-15 M11.5,-17.5 L19,-16.5 M13,-13 L21.5,-12 M14,-8.5 L24,-7 M16.5,-4.5 L25,-2 M19,-0.5 L27,2 M21.5,3 L28,5.5"/></g><g transform="translate(676.0,705.0) rotate(-116)"><path d="M-27.5,8 C-29,-1 -28,-10 -24,-16 C-19,-24 -10,-29 -1,-29.5 C6,-29.5 11,-25.5 15,-23 C22,-19.5 32,-18.5 41,-22 C45,-24 48,-25.5 51,-27 C46,-22 41,-16 38,-8 C35,2 32,12 24,19 C17,25 8,28 -1,28 C-10,28 -18,24.5 -23,19 C-25,17 -26.5,14 -27.5,11"/><path d="M-27.5,7 C-31.5,8 -33,12 -32,16 C-31,20 -28.5,23.5 -24,25 M-29,8.5 C-28,14 -26.5,19 -23,24"/><path d="M-31,11 C-42,13 -50,15 -61,15.9 C-68,16.3 -75,16.8 -81,17 L-77,23.5 C-70,22.5 -62,21.5 -48,20 C-40,19.5 -35,19 -30,17"/><path d="M-30,20 C-40,23 -50,25 -57,27.5 C-66,32 -75,41 -84.5,53.8 L-88.5,46.2 C-83,39 -77,33 -64,24.5 C-58,22 -52,21 -48,20.5"/><path d="M-47,28.5 C-56,33 -63,40 -69.7,49.8 C-66,45 -60,38 -53,32"/><path d="M-28,23 C-36,28 -44,33 -47,39.5 C-50,44 -52,48 -53,51 C-55,50.5 -55.5,49 -55,47 C-54,43 -53,40 -50,36 C-46,31 -40,28 -34,25"/><path class="h" d="M-21,-7 L-18,-15 M-17,-8 L-14,-16 M-14,-10 L-12,-15 M11.5,-17.5 L19,-16.5 M13,-13 L21.5,-12 M14,-8.5 L24,-7 M16.5,-4.5 L25,-2 M19,-0.5 L27,2 M21.5,3 L28,5.5"/></g><g transform="translate(-40.0,-77.5) rotate(-78) scale(1,-1)"><path d="M-27.5,8 C-29,-1 -28,-10 -24,-16 C-19,-24 -10,-29 -1,-29.5 C6,-29.5 11,-25.5 15,-23 C22,-19.5 32,-18.5 41,-22 C45,-24 48,-25.5 51,-27 C46,-22 41,-16 38,-8 C35,2 32,12 24,19 C17,25 8,28 -1,28 C-10,28 -18,24.5 -23,19 C-25,17 -26.5,14 -27.5,11"/><path d="M-27.5,7 C-31.5,8 -33,12 -32,16 C-31,20 -28.5,23.5 -24,25 M-29,8.5 C-28,14 -26.5,19 -23,24"/><path d="M-31,11 C-42,13 -50,15 -61,15.9 C-68,16.3 -75,16.8 -81,17 L-77,23.5 C-70,22.5 -62,21.5 -48,20 C-40,19.5 -35,19 -30,17"/><path d="M-30,20 C-40,23 -50,25 -57,27.5 C-66,32 -75,41 -84.5,53.8 L-88.5,46.2 C-83,39 -77,33 -64,24.5 C-58,22 -52,21 -48,20.5"/><path d="M-47,28.5 C-56,33 -63,40 -69.7,49.8 C-66,45 -60,38 -53,32"/><path d="M-28,23 C-36,28 -44,33 -47,39.5 C-50,44 -52,48 -53,51 C-55,50.5 -55.5,49 -55,47 C-54,43 -53,40 -50,36 C-46,31 -40,28 -34,25"/><path class="h" d="M-21,-7 L-18,-15 M-17,-8 L-14,-16 M-14,-10 L-12,-15 M11.5,-17.5 L19,-16.5 M13,-13 L21.5,-12 M14,-8.5 L24,-7 M16.5,-4.5 L25,-2 M19,-0.5 L27,2 M21.5,3 L28,5.5"/></g><g transform="translate(-40.0,227.5) rotate(-78) scale(1,-1)"><path d="M-27.5,8 C-29,-1 -28,-10 -24,-16 C-19,-24 -10,-29 -1,-29.5 C6,-29.5 11,-25.5 15,-23 C22,-19.5 32,-18.5 41,-22 C45,-24 48,-25.5 51,-27 C46,-22 41,-16 38,-8 C35,2 32,12 24,19 C17,25 8,28 -1,28 C-10,28 -18,24.5 -23,19 C-25,17 -26.5,14 -27.5,11"/><path d="M-27.5,7 C-31.5,8 -33,12 -32,16 C-31,20 -28.5,23.5 -24,25 M-29,8.5 C-28,14 -26.5,19 -23,24"/><path d="M-31,11 C-42,13 -50,15 -61,15.9 C-68,16.3 -75,16.8 -81,17 L-77,23.5 C-70,22.5 -62,21.5 -48,20 C-40,19.5 -35,19 -30,17"/><path d="M-30,20 C-40,23 -50,25 -57,27.5 C-66,32 -75,41 -84.5,53.8 L-88.5,46.2 C-83,39 -77,33 -64,24.5 C-58,22 -52,21 -48,20.5"/><path d="M-47,28.5 C-56,33 -63,40 -69.7,49.8 C-66,45 -60,38 -53,32"/><path d="M-28,23 C-36,28 -44,33 -47,39.5 C-50,44 -52,48 -53,51 C-55,50.5 -55.5,49 -55,47 C-54,43 -53,40 -50,36 C-46,31 -40,28 -34,25"/><path class="h" d="M-21,-7 L-18,-15 M-17,-8 L-14,-16 M-14,-10 L-12,-15 M11.5,-17.5 L19,-16.5 M13,-13 L21.5,-12 M14,-8.5 L24,-7 M16.5,-4.5 L25,-2 M19,-0.5 L27,2 M21.5,3 L28,5.5"/></g><g transform="translate(-40.0,532.5) rotate(-78) scale(1,-1)"><path d="M-27.5,8 C-29,-1 -28,-10 -24,-16 C-19,-24 -10,-29 -1,-29.5 C6,-29.5 11,-25.5 15,-23 C22,-19.5 32,-18.5 41,-22 C45,-24 48,-25.5 51,-27 C46,-22 41,-16 38,-8 C35,2 32,12 24,19 C17,25 8,28 -1,28 C-10,28 -18,24.5 -23,19 C-25,17 -26.5,14 -27.5,11"/><path d="M-27.5,7 C-31.5,8 -33,12 -32,16 C-31,20 -28.5,23.5 -24,25 M-29,8.5 C-28,14 -26.5,19 -23,24"/><path d="M-31,11 C-42,13 -50,15 -61,15.9 C-68,16.3 -75,16.8 -81,17 L-77,23.5 C-70,22.5 -62,21.5 -48,20 C-40,19.5 -35,19 -30,17"/><path d="M-30,20 C-40,23 -50,25 -57,27.5 C-66,32 -75,41 -84.5,53.8 L-88.5,46.2 C-83,39 -77,33 -64,24.5 C-58,22 -52,21 -48,20.5"/><path d="M-47,28.5 C-56,33 -63,40 -69.7,49.8 C-66,45 -60,38 -53,32"/><path d="M-28,23 C-36,28 -44,33 -47,39.5 C-50,44 -52,48 -53,51 C-55,50.5 -55.5,49 -55,47 C-54,43 -53,40 -50,36 C-46,31 -40,28 -34,25"/><path class="h" d="M-21,-7 L-18,-15 M-17,-8 L-14,-16 M-14,-10 L-12,-15 M11.5,-17.5 L19,-16.5 M13,-13 L21.5,-12 M14,-8.5 L24,-7 M16.5,-4.5 L25,-2 M19,-0.5 L27,2 M21.5,3 L28,5.5"/></g><g transform="translate(-40.0,837.5) rotate(-78) scale(1,-1)"><path d="M-27.5,8 C-29,-1 -28,-10 -24,-16 C-19,-24 -10,-29 -1,-29.5 C6,-29.5 11,-25.5 15,-23 C22,-19.5 32,-18.5 41,-22 C45,-24 48,-25.5 51,-27 C46,-22 41,-16 38,-8 C35,2 32,12 24,19 C17,25 8,28 -1,28 C-10,28 -18,24.5 -23,19 C-25,17 -26.5,14 -27.5,11"/><path d="M-27.5,7 C-31.5,8 -33,12 -32,16 C-31,20 -28.5,23.5 -24,25 M-29,8.5 C-28,14 -26.5,19 -23,24"/><path d="M-31,11 C-42,13 -50,15 -61,15.9 C-68,16.3 -75,16.8 -81,17 L-77,23.5 C-70,22.5 -62,21.5 -48,20 C-40,19.5 -35,19 -30,17"/><path d="M-30,20 C-40,23 -50,25 -57,27.5 C-66,32 -75,41 -84.5,53.8 L-88.5,46.2 C-83,39 -77,33 -64,24.5 C-58,22 -52,21 -48,20.5"/><path d="M-47,28.5 C-56,33 -63,40 -69.7,49.8 C-66,45 -60,38 -53,32"/><path d="M-28,23 C-36,28 -44,33 -47,39.5 C-50,44 -52,48 -53,51 C-55,50.5 -55.5,49 -55,47 C-54,43 -53,40 -50,36 C-46,31 -40,28 -34,25"/><path class="h" d="M-21,-7 L-18,-15 M-17,-8 L-14,-16 M-14,-10 L-12,-15 M11.5,-17.5 L19,-16.5 M13,-13 L21.5,-12 M14,-8.5 L24,-7 M16.5,-4.5 L25,-2 M19,-0.5 L27,2 M21.5,3 L28,5.5"/></g><g transform="translate(370.0,-77.5) rotate(-78) scale(1,-1)"><path d="M-27.5,8 C-29,-1 -28,-10 -24,-16 C-19,-24 -10,-29 -1,-29.5 C6,-29.5 11,-25.5 15,-23 C22,-19.5 32,-18.5 41,-22 C45,-24 48,-25.5 51,-27 C46,-22 41,-16 38,-8 C35,2 32,12 24,19 C17,25 8,28 -1,28 C-10,28 -18,24.5 -23,19 C-25,17 -26.5,14 -27.5,11"/><path d="M-27.5,7 C-31.5,8 -33,12 -32,16 C-31,20 -28.5,23.5 -24,25 M-29,8.5 C-28,14 -26.5,19 -23,24"/><path d="M-31,11 C-42,13 -50,15 -61,15.9 C-68,16.3 -75,16.8 -81,17 L-77,23.5 C-70,22.5 -62,21.5 -48,20 C-40,19.5 -35,19 -30,17"/><path d="M-30,20 C-40,23 -50,25 -57,27.5 C-66,32 -75,41 -84.5,53.8 L-88.5,46.2 C-83,39 -77,33 -64,24.5 C-58,22 -52,21 -48,20.5"/><path d="M-47,28.5 C-56,33 -63,40 -69.7,49.8 C-66,45 -60,38 -53,32"/><path d="M-28,23 C-36,28 -44,33 -47,39.5 C-50,44 -52,48 -53,51 C-55,50.5 -55.5,49 -55,47 C-54,43 -53,40 -50,36 C-46,31 -40,28 -34,25"/><path class="h" d="M-21,-7 L-18,-15 M-17,-8 L-14,-16 M-14,-10 L-12,-15 M11.5,-17.5 L19,-16.5 M13,-13 L21.5,-12 M14,-8.5 L24,-7 M16.5,-4.5 L25,-2 M19,-0.5 L27,2 M21.5,3 L28,5.5"/></g><g transform="translate(370.0,227.5) rotate(-78) scale(1,-1)"><path d="M-27.5,8 C-29,-1 -28,-10 -24,-16 C-19,-24 -10,-29 -1,-29.5 C6,-29.5 11,-25.5 15,-23 C22,-19.5 32,-18.5 41,-22 C45,-24 48,-25.5 51,-27 C46,-22 41,-16 38,-8 C35,2 32,12 24,19 C17,25 8,28 -1,28 C-10,28 -18,24.5 -23,19 C-25,17 -26.5,14 -27.5,11"/><path d="M-27.5,7 C-31.5,8 -33,12 -32,16 C-31,20 -28.5,23.5 -24,25 M-29,8.5 C-28,14 -26.5,19 -23,24"/><path d="M-31,11 C-42,13 -50,15 -61,15.9 C-68,16.3 -75,16.8 -81,17 L-77,23.5 C-70,22.5 -62,21.5 -48,20 C-40,19.5 -35,19 -30,17"/><path d="M-30,20 C-40,23 -50,25 -57,27.5 C-66,32 -75,41 -84.5,53.8 L-88.5,46.2 C-83,39 -77,33 -64,24.5 C-58,22 -52,21 -48,20.5"/><path d="M-47,28.5 C-56,33 -63,40 -69.7,49.8 C-66,45 -60,38 -53,32"/><path d="M-28,23 C-36,28 -44,33 -47,39.5 C-50,44 -52,48 -53,51 C-55,50.5 -55.5,49 -55,47 C-54,43 -53,40 -50,36 C-46,31 -40,28 -34,25"/><path class="h" d="M-21,-7 L-18,-15 M-17,-8 L-14,-16 M-14,-10 L-12,-15 M11.5,-17.5 L19,-16.5 M13,-13 L21.5,-12 M14,-8.5 L24,-7 M16.5,-4.5 L25,-2 M19,-0.5 L27,2 M21.5,3 L28,5.5"/></g><g transform="translate(370.0,532.5) rotate(-78) scale(1,-1)"><path d="M-27.5,8 C-29,-1 -28,-10 -24,-16 C-19,-24 -10,-29 -1,-29.5 C6,-29.5 11,-25.5 15,-23 C22,-19.5 32,-18.5 41,-22 C45,-24 48,-25.5 51,-27 C46,-22 41,-16 38,-8 C35,2 32,12 24,19 C17,25 8,28 -1,28 C-10,28 -18,24.5 -23,19 C-25,17 -26.5,14 -27.5,11"/><path d="M-27.5,7 C-31.5,8 -33,12 -32,16 C-31,20 -28.5,23.5 -24,25 M-29,8.5 C-28,14 -26.5,19 -23,24"/><path d="M-31,11 C-42,13 -50,15 -61,15.9 C-68,16.3 -75,16.8 -81,17 L-77,23.5 C-70,22.5 -62,21.5 -48,20 C-40,19.5 -35,19 -30,17"/><path d="M-30,20 C-40,23 -50,25 -57,27.5 C-66,32 -75,41 -84.5,53.8 L-88.5,46.2 C-83,39 -77,33 -64,24.5 C-58,22 -52,21 -48,20.5"/><path d="M-47,28.5 C-56,33 -63,40 -69.7,49.8 C-66,45 -60,38 -53,32"/><path d="M-28,23 C-36,28 -44,33 -47,39.5 C-50,44 -52,48 -53,51 C-55,50.5 -55.5,49 -55,47 C-54,43 -53,40 -50,36 C-46,31 -40,28 -34,25"/><path class="h" d="M-21,-7 L-18,-15 M-17,-8 L-14,-16 M-14,-10 L-12,-15 M11.5,-17.5 L19,-16.5 M13,-13 L21.5,-12 M14,-8.5 L24,-7 M16.5,-4.5 L25,-2 M19,-0.5 L27,2 M21.5,3 L28,5.5"/></g><g transform="translate(370.0,837.5) rotate(-78) scale(1,-1)"><path d="M-27.5,8 C-29,-1 -28,-10 -24,-16 C-19,-24 -10,-29 -1,-29.5 C6,-29.5 11,-25.5 15,-23 C22,-19.5 32,-18.5 41,-22 C45,-24 48,-25.5 51,-27 C46,-22 41,-16 38,-8 C35,2 32,12 24,19 C17,25 8,28 -1,28 C-10,28 -18,24.5 -23,19 C-25,17 -26.5,14 -27.5,11"/><path d="M-27.5,7 C-31.5,8 -33,12 -32,16 C-31,20 -28.5,23.5 -24,25 M-29,8.5 C-28,14 -26.5,19 -23,24"/><path d="M-31,11 C-42,13 -50,15 -61,15.9 C-68,16.3 -75,16.8 -81,17 L-77,23.5 C-70,22.5 -62,21.5 -48,20 C-40,19.5 -35,19 -30,17"/><path d="M-30,20 C-40,23 -50,25 -57,27.5 C-66,32 -75,41 -84.5,53.8 L-88.5,46.2 C-83,39 -77,33 -64,24.5 C-58,22 -52,21 -48,20.5"/><path d="M-47,28.5 C-56,33 -63,40 -69.7,49.8 C-66,45 -60,38 -53,32"/><path d="M-28,23 C-36,28 -44,33 -47,39.5 C-50,44 -52,48 -53,51 C-55,50.5 -55.5,49 -55,47 C-54,43 -53,40 -50,36 C-46,31 -40,28 -34,25"/><path class="h" d="M-21,-7 L-18,-15 M-17,-8 L-14,-16 M-14,-10 L-12,-15 M11.5,-17.5 L19,-16.5 M13,-13 L21.5,-12 M14,-8.5 L24,-7 M16.5,-4.5 L25,-2 M19,-0.5 L27,2 M21.5,3 L28,5.5"/></g><g transform="translate(780.0,-77.5) rotate(-78) scale(1,-1)"><path d="M-27.5,8 C-29,-1 -28,-10 -24,-16 C-19,-24 -10,-29 -1,-29.5 C6,-29.5 11,-25.5 15,-23 C22,-19.5 32,-18.5 41,-22 C45,-24 48,-25.5 51,-27 C46,-22 41,-16 38,-8 C35,2 32,12 24,19 C17,25 8,28 -1,28 C-10,28 -18,24.5 -23,19 C-25,17 -26.5,14 -27.5,11"/><path d="M-27.5,7 C-31.5,8 -33,12 -32,16 C-31,20 -28.5,23.5 -24,25 M-29,8.5 C-28,14 -26.5,19 -23,24"/><path d="M-31,11 C-42,13 -50,15 -61,15.9 C-68,16.3 -75,16.8 -81,17 L-77,23.5 C-70,22.5 -62,21.5 -48,20 C-40,19.5 -35,19 -30,17"/><path d="M-30,20 C-40,23 -50,25 -57,27.5 C-66,32 -75,41 -84.5,53.8 L-88.5,46.2 C-83,39 -77,33 -64,24.5 C-58,22 -52,21 -48,20.5"/><path d="M-47,28.5 C-56,33 -63,40 -69.7,49.8 C-66,45 -60,38 -53,32"/><path d="M-28,23 C-36,28 -44,33 -47,39.5 C-50,44 -52,48 -53,51 C-55,50.5 -55.5,49 -55,47 C-54,43 -53,40 -50,36 C-46,31 -40,28 -34,25"/><path class="h" d="M-21,-7 L-18,-15 M-17,-8 L-14,-16 M-14,-10 L-12,-15 M11.5,-17.5 L19,-16.5 M13,-13 L21.5,-12 M14,-8.5 L24,-7 M16.5,-4.5 L25,-2 M19,-0.5 L27,2 M21.5,3 L28,5.5"/></g><g transform="translate(780.0,227.5) rotate(-78) scale(1,-1)"><path d="M-27.5,8 C-29,-1 -28,-10 -24,-16 C-19,-24 -10,-29 -1,-29.5 C6,-29.5 11,-25.5 15,-23 C22,-19.5 32,-18.5 41,-22 C45,-24 48,-25.5 51,-27 C46,-22 41,-16 38,-8 C35,2 32,12 24,19 C17,25 8,28 -1,28 C-10,28 -18,24.5 -23,19 C-25,17 -26.5,14 -27.5,11"/><path d="M-27.5,7 C-31.5,8 -33,12 -32,16 C-31,20 -28.5,23.5 -24,25 M-29,8.5 C-28,14 -26.5,19 -23,24"/><path d="M-31,11 C-42,13 -50,15 -61,15.9 C-68,16.3 -75,16.8 -81,17 L-77,23.5 C-70,22.5 -62,21.5 -48,20 C-40,19.5 -35,19 -30,17"/><path d="M-30,20 C-40,23 -50,25 -57,27.5 C-66,32 -75,41 -84.5,53.8 L-88.5,46.2 C-83,39 -77,33 -64,24.5 C-58,22 -52,21 -48,20.5"/><path d="M-47,28.5 C-56,33 -63,40 -69.7,49.8 C-66,45 -60,38 -53,32"/><path d="M-28,23 C-36,28 -44,33 -47,39.5 C-50,44 -52,48 -53,51 C-55,50.5 -55.5,49 -55,47 C-54,43 -53,40 -50,36 C-46,31 -40,28 -34,25"/><path class="h" d="M-21,-7 L-18,-15 M-17,-8 L-14,-16 M-14,-10 L-12,-15 M11.5,-17.5 L19,-16.5 M13,-13 L21.5,-12 M14,-8.5 L24,-7 M16.5,-4.5 L25,-2 M19,-0.5 L27,2 M21.5,3 L28,5.5"/></g><g transform="translate(780.0,532.5) rotate(-78) scale(1,-1)"><path d="M-27.5,8 C-29,-1 -28,-10 -24,-16 C-19,-24 -10,-29 -1,-29.5 C6,-29.5 11,-25.5 15,-23 C22,-19.5 32,-18.5 41,-22 C45,-24 48,-25.5 51,-27 C46,-22 41,-16 38,-8 C35,2 32,12 24,19 C17,25 8,28 -1,28 C-10,28 -18,24.5 -23,19 C-25,17 -26.5,14 -27.5,11"/><path d="M-27.5,7 C-31.5,8 -33,12 -32,16 C-31,20 -28.5,23.5 -24,25 M-29,8.5 C-28,14 -26.5,19 -23,24"/><path d="M-31,11 C-42,13 -50,15 -61,15.9 C-68,16.3 -75,16.8 -81,17 L-77,23.5 C-70,22.5 -62,21.5 -48,20 C-40,19.5 -35,19 -30,17"/><path d="M-30,20 C-40,23 -50,25 -57,27.5 C-66,32 -75,41 -84.5,53.8 L-88.5,46.2 C-83,39 -77,33 -64,24.5 C-58,22 -52,21 -48,20.5"/><path d="M-47,28.5 C-56,33 -63,40 -69.7,49.8 C-66,45 -60,38 -53,32"/><path d="M-28,23 C-36,28 -44,33 -47,39.5 C-50,44 -52,48 -53,51 C-55,50.5 -55.5,49 -55,47 C-54,43 -53,40 -50,36 C-46,31 -40,28 -34,25"/><path class="h" d="M-21,-7 L-18,-15 M-17,-8 L-14,-16 M-14,-10 L-12,-15 M11.5,-17.5 L19,-16.5 M13,-13 L21.5,-12 M14,-8.5 L24,-7 M16.5,-4.5 L25,-2 M19,-0.5 L27,2 M21.5,3 L28,5.5"/></g><g transform="translate(780.0,837.5) rotate(-78) scale(1,-1)"><path d="M-27.5,8 C-29,-1 -28,-10 -24,-16 C-19,-24 -10,-29 -1,-29.5 C6,-29.5 11,-25.5 15,-23 C22,-19.5 32,-18.5 41,-22 C45,-24 48,-25.5 51,-27 C46,-22 41,-16 38,-8 C35,2 32,12 24,19 C17,25 8,28 -1,28 C-10,28 -18,24.5 -23,19 C-25,17 -26.5,14 -27.5,11"/><path d="M-27.5,7 C-31.5,8 -33,12 -32,16 C-31,20 -28.5,23.5 -24,25 M-29,8.5 C-28,14 -26.5,19 -23,24"/><path d="M-31,11 C-42,13 -50,15 -61,15.9 C-68,16.3 -75,16.8 -81,17 L-77,23.5 C-70,22.5 -62,21.5 -48,20 C-40,19.5 -35,19 -30,17"/><path d="M-30,20 C-40,23 -50,25 -57,27.5 C-66,32 -75,41 -84.5,53.8 L-88.5,46.2 C-83,39 -77,33 -64,24.5 C-58,22 -52,21 -48,20.5"/><path d="M-47,28.5 C-56,33 -63,40 -69.7,49.8 C-66,45 -60,38 -53,32"/><path d="M-28,23 C-36,28 -44,33 -47,39.5 C-50,44 -52,48 -53,51 C-55,50.5 -55.5,49 -55,47 C-54,43 -53,40 -50,36 C-46,31 -40,28 -34,25"/><path class="h" d="M-21,-7 L-18,-15 M-17,-8 L-14,-16 M-14,-10 L-12,-15 M11.5,-17.5 L19,-16.5 M13,-13 L21.5,-12 M14,-8.5 L24,-7 M16.5,-4.5 L25,-2 M19,-0.5 L27,2 M21.5,3 L28,5.5"/></g><g transform="translate(57.8,-10.4) rotate(0)"><path d="M0,-23.2 C11,-23.5 20,-16 21,-4 C22,9 16,23 1,23.3 C-12,23.5 -21,13 -21,0 C-21,-13 -12,-23 0,-23.2 Z"/><path class="h" d="M3.0,0.4 L12.9,1.8 M2.4,1.8 L11.4,8.9 M1.1,2.8 L6.0,14.8 M-0.4,3.0 L-1.8,12.9 M-1.8,2.4 L-8.9,11.4 M-2.8,1.1 L-14.8,6.0 M-3.0,-0.4 L-12.9,-1.8 M-2.4,-1.8 L-11.4,-8.9 M-1.1,-2.8 L-6.0,-14.8 M0.4,-3.0 L1.8,-12.9 M1.8,-2.4 L8.9,-11.4 M2.8,-1.1 L14.8,-6.0"/></g><g transform="translate(57.8,294.6) rotate(0)"><path d="M0,-23.2 C11,-23.5 20,-16 21,-4 C22,9 16,23 1,23.3 C-12,23.5 -21,13 -21,0 C-21,-13 -12,-23 0,-23.2 Z"/><path class="h" d="M3.0,0.4 L12.9,1.8 M2.4,1.8 L11.4,8.9 M1.1,2.8 L6.0,14.8 M-0.4,3.0 L-1.8,12.9 M-1.8,2.4 L-8.9,11.4 M-2.8,1.1 L-14.8,6.0 M-3.0,-0.4 L-12.9,-1.8 M-2.4,-1.8 L-11.4,-8.9 M-1.1,-2.8 L-6.0,-14.8 M0.4,-3.0 L1.8,-12.9 M1.8,-2.4 L8.9,-11.4 M2.8,-1.1 L14.8,-6.0"/></g><g transform="translate(57.8,599.6) rotate(0)"><path d="M0,-23.2 C11,-23.5 20,-16 21,-4 C22,9 16,23 1,23.3 C-12,23.5 -21,13 -21,0 C-21,-13 -12,-23 0,-23.2 Z"/><path class="h" d="M3.0,0.4 L12.9,1.8 M2.4,1.8 L11.4,8.9 M1.1,2.8 L6.0,14.8 M-0.4,3.0 L-1.8,12.9 M-1.8,2.4 L-8.9,11.4 M-2.8,1.1 L-14.8,6.0 M-3.0,-0.4 L-12.9,-1.8 M-2.4,-1.8 L-11.4,-8.9 M-1.1,-2.8 L-6.0,-14.8 M0.4,-3.0 L1.8,-12.9 M1.8,-2.4 L8.9,-11.4 M2.8,-1.1 L14.8,-6.0"/></g><g transform="translate(57.8,904.6) rotate(0)"><path d="M0,-23.2 C11,-23.5 20,-16 21,-4 C22,9 16,23 1,23.3 C-12,23.5 -21,13 -21,0 C-21,-13 -12,-23 0,-23.2 Z"/><path class="h" d="M3.0,0.4 L12.9,1.8 M2.4,1.8 L11.4,8.9 M1.1,2.8 L6.0,14.8 M-0.4,3.0 L-1.8,12.9 M-1.8,2.4 L-8.9,11.4 M-2.8,1.1 L-14.8,6.0 M-3.0,-0.4 L-12.9,-1.8 M-2.4,-1.8 L-11.4,-8.9 M-1.1,-2.8 L-6.0,-14.8 M0.4,-3.0 L1.8,-12.9 M1.8,-2.4 L8.9,-11.4 M2.8,-1.1 L14.8,-6.0"/></g><g transform="translate(467.8,-10.4) rotate(0)"><path d="M0,-23.2 C11,-23.5 20,-16 21,-4 C22,9 16,23 1,23.3 C-12,23.5 -21,13 -21,0 C-21,-13 -12,-23 0,-23.2 Z"/><path class="h" d="M3.0,0.4 L12.9,1.8 M2.4,1.8 L11.4,8.9 M1.1,2.8 L6.0,14.8 M-0.4,3.0 L-1.8,12.9 M-1.8,2.4 L-8.9,11.4 M-2.8,1.1 L-14.8,6.0 M-3.0,-0.4 L-12.9,-1.8 M-2.4,-1.8 L-11.4,-8.9 M-1.1,-2.8 L-6.0,-14.8 M0.4,-3.0 L1.8,-12.9 M1.8,-2.4 L8.9,-11.4 M2.8,-1.1 L14.8,-6.0"/></g><g transform="translate(467.8,294.6) rotate(0)"><path d="M0,-23.2 C11,-23.5 20,-16 21,-4 C22,9 16,23 1,23.3 C-12,23.5 -21,13 -21,0 C-21,-13 -12,-23 0,-23.2 Z"/><path class="h" d="M3.0,0.4 L12.9,1.8 M2.4,1.8 L11.4,8.9 M1.1,2.8 L6.0,14.8 M-0.4,3.0 L-1.8,12.9 M-1.8,2.4 L-8.9,11.4 M-2.8,1.1 L-14.8,6.0 M-3.0,-0.4 L-12.9,-1.8 M-2.4,-1.8 L-11.4,-8.9 M-1.1,-2.8 L-6.0,-14.8 M0.4,-3.0 L1.8,-12.9 M1.8,-2.4 L8.9,-11.4 M2.8,-1.1 L14.8,-6.0"/></g><g transform="translate(467.8,599.6) rotate(0)"><path d="M0,-23.2 C11,-23.5 20,-16 21,-4 C22,9 16,23 1,23.3 C-12,23.5 -21,13 -21,0 C-21,-13 -12,-23 0,-23.2 Z"/><path class="h" d="M3.0,0.4 L12.9,1.8 M2.4,1.8 L11.4,8.9 M1.1,2.8 L6.0,14.8 M-0.4,3.0 L-1.8,12.9 M-1.8,2.4 L-8.9,11.4 M-2.8,1.1 L-14.8,6.0 M-3.0,-0.4 L-12.9,-1.8 M-2.4,-1.8 L-11.4,-8.9 M-1.1,-2.8 L-6.0,-14.8 M0.4,-3.0 L1.8,-12.9 M1.8,-2.4 L8.9,-11.4 M2.8,-1.1 L14.8,-6.0"/></g><g transform="translate(467.8,904.6) rotate(0)"><path d="M0,-23.2 C11,-23.5 20,-16 21,-4 C22,9 16,23 1,23.3 C-12,23.5 -21,13 -21,0 C-21,-13 -12,-23 0,-23.2 Z"/><path class="h" d="M3.0,0.4 L12.9,1.8 M2.4,1.8 L11.4,8.9 M1.1,2.8 L6.0,14.8 M-0.4,3.0 L-1.8,12.9 M-1.8,2.4 L-8.9,11.4 M-2.8,1.1 L-14.8,6.0 M-3.0,-0.4 L-12.9,-1.8 M-2.4,-1.8 L-11.4,-8.9 M-1.1,-2.8 L-6.0,-14.8 M0.4,-3.0 L1.8,-12.9 M1.8,-2.4 L8.9,-11.4 M2.8,-1.1 L14.8,-6.0"/></g><g transform="translate(877.8,-10.4) rotate(0)"><path d="M0,-23.2 C11,-23.5 20,-16 21,-4 C22,9 16,23 1,23.3 C-12,23.5 -21,13 -21,0 C-21,-13 -12,-23 0,-23.2 Z"/><path class="h" d="M3.0,0.4 L12.9,1.8 M2.4,1.8 L11.4,8.9 M1.1,2.8 L6.0,14.8 M-0.4,3.0 L-1.8,12.9 M-1.8,2.4 L-8.9,11.4 M-2.8,1.1 L-14.8,6.0 M-3.0,-0.4 L-12.9,-1.8 M-2.4,-1.8 L-11.4,-8.9 M-1.1,-2.8 L-6.0,-14.8 M0.4,-3.0 L1.8,-12.9 M1.8,-2.4 L8.9,-11.4 M2.8,-1.1 L14.8,-6.0"/></g><g transform="translate(877.8,294.6) rotate(0)"><path d="M0,-23.2 C11,-23.5 20,-16 21,-4 C22,9 16,23 1,23.3 C-12,23.5 -21,13 -21,0 C-21,-13 -12,-23 0,-23.2 Z"/><path class="h" d="M3.0,0.4 L12.9,1.8 M2.4,1.8 L11.4,8.9 M1.1,2.8 L6.0,14.8 M-0.4,3.0 L-1.8,12.9 M-1.8,2.4 L-8.9,11.4 M-2.8,1.1 L-14.8,6.0 M-3.0,-0.4 L-12.9,-1.8 M-2.4,-1.8 L-11.4,-8.9 M-1.1,-2.8 L-6.0,-14.8 M0.4,-3.0 L1.8,-12.9 M1.8,-2.4 L8.9,-11.4 M2.8,-1.1 L14.8,-6.0"/></g><g transform="translate(877.8,599.6) rotate(0)"><path d="M0,-23.2 C11,-23.5 20,-16 21,-4 C22,9 16,23 1,23.3 C-12,23.5 -21,13 -21,0 C-21,-13 -12,-23 0,-23.2 Z"/><path class="h" d="M3.0,0.4 L12.9,1.8 M2.4,1.8 L11.4,8.9 M1.1,2.8 L6.0,14.8 M-0.4,3.0 L-1.8,12.9 M-1.8,2.4 L-8.9,11.4 M-2.8,1.1 L-14.8,6.0 M-3.0,-0.4 L-12.9,-1.8 M-2.4,-1.8 L-11.4,-8.9 M-1.1,-2.8 L-6.0,-14.8 M0.4,-3.0 L1.8,-12.9 M1.8,-2.4 L8.9,-11.4 M2.8,-1.1 L14.8,-6.0"/></g><g transform="translate(877.8,904.6) rotate(0)"><path d="M0,-23.2 C11,-23.5 20,-16 21,-4 C22,9 16,23 1,23.3 C-12,23.5 -21,13 -21,0 C-21,-13 -12,-23 0,-23.2 Z"/><path class="h" d="M3.0,0.4 L12.9,1.8 M2.4,1.8 L11.4,8.9 M1.1,2.8 L6.0,14.8 M-0.4,3.0 L-1.8,12.9 M-1.8,2.4 L-8.9,11.4 M-2.8,1.1 L-14.8,6.0 M-3.0,-0.4 L-12.9,-1.8 M-2.4,-1.8 L-11.4,-8.9 M-1.1,-2.8 L-6.0,-14.8 M0.4,-3.0 L1.8,-12.9 M1.8,-2.4 L8.9,-11.4 M2.8,-1.1 L14.8,-6.0"/></g><g transform="translate(-33.0,58.5) rotate(0)"><path d="M0,-23.2 C11,-23.5 20,-16 21,-4 C22,9 16,23 1,23.3 C-12,23.5 -21,13 -21,0 C-21,-13 -12,-23 0,-23.2 Z"/><path class="h" d="M3.0,0.4 L12.9,1.8 M2.4,1.8 L11.4,8.9 M1.1,2.8 L6.0,14.8 M-0.4,3.0 L-1.8,12.9 M-1.8,2.4 L-8.9,11.4 M-2.8,1.1 L-14.8,6.0 M-3.0,-0.4 L-12.9,-1.8 M-2.4,-1.8 L-11.4,-8.9 M-1.1,-2.8 L-6.0,-14.8 M0.4,-3.0 L1.8,-12.9 M1.8,-2.4 L8.9,-11.4 M2.8,-1.1 L14.8,-6.0"/></g><g transform="translate(-33.0,363.5) rotate(0)"><path d="M0,-23.2 C11,-23.5 20,-16 21,-4 C22,9 16,23 1,23.3 C-12,23.5 -21,13 -21,0 C-21,-13 -12,-23 0,-23.2 Z"/><path class="h" d="M3.0,0.4 L12.9,1.8 M2.4,1.8 L11.4,8.9 M1.1,2.8 L6.0,14.8 M-0.4,3.0 L-1.8,12.9 M-1.8,2.4 L-8.9,11.4 M-2.8,1.1 L-14.8,6.0 M-3.0,-0.4 L-12.9,-1.8 M-2.4,-1.8 L-11.4,-8.9 M-1.1,-2.8 L-6.0,-14.8 M0.4,-3.0 L1.8,-12.9 M1.8,-2.4 L8.9,-11.4 M2.8,-1.1 L14.8,-6.0"/></g><g transform="translate(-33.0,668.5) rotate(0)"><path d="M0,-23.2 C11,-23.5 20,-16 21,-4 C22,9 16,23 1,23.3 C-12,23.5 -21,13 -21,0 C-21,-13 -12,-23 0,-23.2 Z"/><path class="h" d="M3.0,0.4 L12.9,1.8 M2.4,1.8 L11.4,8.9 M1.1,2.8 L6.0,14.8 M-0.4,3.0 L-1.8,12.9 M-1.8,2.4 L-8.9,11.4 M-2.8,1.1 L-14.8,6.0 M-3.0,-0.4 L-12.9,-1.8 M-2.4,-1.8 L-11.4,-8.9 M-1.1,-2.8 L-6.0,-14.8 M0.4,-3.0 L1.8,-12.9 M1.8,-2.4 L8.9,-11.4 M2.8,-1.1 L14.8,-6.0"/></g><g transform="translate(377.0,58.5) rotate(0)"><path d="M0,-23.2 C11,-23.5 20,-16 21,-4 C22,9 16,23 1,23.3 C-12,23.5 -21,13 -21,0 C-21,-13 -12,-23 0,-23.2 Z"/><path class="h" d="M3.0,0.4 L12.9,1.8 M2.4,1.8 L11.4,8.9 M1.1,2.8 L6.0,14.8 M-0.4,3.0 L-1.8,12.9 M-1.8,2.4 L-8.9,11.4 M-2.8,1.1 L-14.8,6.0 M-3.0,-0.4 L-12.9,-1.8 M-2.4,-1.8 L-11.4,-8.9 M-1.1,-2.8 L-6.0,-14.8 M0.4,-3.0 L1.8,-12.9 M1.8,-2.4 L8.9,-11.4 M2.8,-1.1 L14.8,-6.0"/></g><g transform="translate(377.0,363.5) rotate(0)"><path d="M0,-23.2 C11,-23.5 20,-16 21,-4 C22,9 16,23 1,23.3 C-12,23.5 -21,13 -21,0 C-21,-13 -12,-23 0,-23.2 Z"/><path class="h" d="M3.0,0.4 L12.9,1.8 M2.4,1.8 L11.4,8.9 M1.1,2.8 L6.0,14.8 M-0.4,3.0 L-1.8,12.9 M-1.8,2.4 L-8.9,11.4 M-2.8,1.1 L-14.8,6.0 M-3.0,-0.4 L-12.9,-1.8 M-2.4,-1.8 L-11.4,-8.9 M-1.1,-2.8 L-6.0,-14.8 M0.4,-3.0 L1.8,-12.9 M1.8,-2.4 L8.9,-11.4 M2.8,-1.1 L14.8,-6.0"/></g><g transform="translate(377.0,668.5) rotate(0)"><path d="M0,-23.2 C11,-23.5 20,-16 21,-4 C22,9 16,23 1,23.3 C-12,23.5 -21,13 -21,0 C-21,-13 -12,-23 0,-23.2 Z"/><path class="h" d="M3.0,0.4 L12.9,1.8 M2.4,1.8 L11.4,8.9 M1.1,2.8 L6.0,14.8 M-0.4,3.0 L-1.8,12.9 M-1.8,2.4 L-8.9,11.4 M-2.8,1.1 L-14.8,6.0 M-3.0,-0.4 L-12.9,-1.8 M-2.4,-1.8 L-11.4,-8.9 M-1.1,-2.8 L-6.0,-14.8 M0.4,-3.0 L1.8,-12.9 M1.8,-2.4 L8.9,-11.4 M2.8,-1.1 L14.8,-6.0"/></g><g transform="translate(787.0,58.5) rotate(0)"><path d="M0,-23.2 C11,-23.5 20,-16 21,-4 C22,9 16,23 1,23.3 C-12,23.5 -21,13 -21,0 C-21,-13 -12,-23 0,-23.2 Z"/><path class="h" d="M3.0,0.4 L12.9,1.8 M2.4,1.8 L11.4,8.9 M1.1,2.8 L6.0,14.8 M-0.4,3.0 L-1.8,12.9 M-1.8,2.4 L-8.9,11.4 M-2.8,1.1 L-14.8,6.0 M-3.0,-0.4 L-12.9,-1.8 M-2.4,-1.8 L-11.4,-8.9 M-1.1,-2.8 L-6.0,-14.8 M0.4,-3.0 L1.8,-12.9 M1.8,-2.4 L8.9,-11.4 M2.8,-1.1 L14.8,-6.0"/></g><g transform="translate(787.0,363.5) rotate(0)"><path d="M0,-23.2 C11,-23.5 20,-16 21,-4 C22,9 16,23 1,23.3 C-12,23.5 -21,13 -21,0 C-21,-13 -12,-23 0,-23.2 Z"/><path class="h" d="M3.0,0.4 L12.9,1.8 M2.4,1.8 L11.4,8.9 M1.1,2.8 L6.0,14.8 M-0.4,3.0 L-1.8,12.9 M-1.8,2.4 L-8.9,11.4 M-2.8,1.1 L-14.8,6.0 M-3.0,-0.4 L-12.9,-1.8 M-2.4,-1.8 L-11.4,-8.9 M-1.1,-2.8 L-6.0,-14.8 M0.4,-3.0 L1.8,-12.9 M1.8,-2.4 L8.9,-11.4 M2.8,-1.1 L14.8,-6.0"/></g><g transform="translate(787.0,668.5) rotate(0)"><path d="M0,-23.2 C11,-23.5 20,-16 21,-4 C22,9 16,23 1,23.3 C-12,23.5 -21,13 -21,0 C-21,-13 -12,-23 0,-23.2 Z"/><path class="h" d="M3.0,0.4 L12.9,1.8 M2.4,1.8 L11.4,8.9 M1.1,2.8 L6.0,14.8 M-0.4,3.0 L-1.8,12.9 M-1.8,2.4 L-8.9,11.4 M-2.8,1.1 L-14.8,6.0 M-3.0,-0.4 L-12.9,-1.8 M-2.4,-1.8 L-11.4,-8.9 M-1.1,-2.8 L-6.0,-14.8 M0.4,-3.0 L1.8,-12.9 M1.8,-2.4 L8.9,-11.4 M2.8,-1.1 L14.8,-6.0"/></g><g transform="translate(267.4,-115.7) rotate(0)"><path d="M0,-23.2 C11,-23.5 20,-16 21,-4 C22,9 16,23 1,23.3 C-12,23.5 -21,13 -21,0 C-21,-13 -12,-23 0,-23.2 Z"/><path class="h" d="M3.0,0.4 L12.9,1.8 M2.4,1.8 L11.4,8.9 M1.1,2.8 L6.0,14.8 M-0.4,3.0 L-1.8,12.9 M-1.8,2.4 L-8.9,11.4 M-2.8,1.1 L-14.8,6.0 M-3.0,-0.4 L-12.9,-1.8 M-2.4,-1.8 L-11.4,-8.9 M-1.1,-2.8 L-6.0,-14.8 M0.4,-3.0 L1.8,-12.9 M1.8,-2.4 L8.9,-11.4 M2.8,-1.1 L14.8,-6.0"/></g><g transform="translate(267.4,189.3) rotate(0)"><path d="M0,-23.2 C11,-23.5 20,-16 21,-4 C22,9 16,23 1,23.3 C-12,23.5 -21,13 -21,0 C-21,-13 -12,-23 0,-23.2 Z"/><path class="h" d="M3.0,0.4 L12.9,1.8 M2.4,1.8 L11.4,8.9 M1.1,2.8 L6.0,14.8 M-0.4,3.0 L-1.8,12.9 M-1.8,2.4 L-8.9,11.4 M-2.8,1.1 L-14.8,6.0 M-3.0,-0.4 L-12.9,-1.8 M-2.4,-1.8 L-11.4,-8.9 M-1.1,-2.8 L-6.0,-14.8 M0.4,-3.0 L1.8,-12.9 M1.8,-2.4 L8.9,-11.4 M2.8,-1.1 L14.8,-6.0"/></g><g transform="translate(267.4,494.3) rotate(0)"><path d="M0,-23.2 C11,-23.5 20,-16 21,-4 C22,9 16,23 1,23.3 C-12,23.5 -21,13 -21,0 C-21,-13 -12,-23 0,-23.2 Z"/><path class="h" d="M3.0,0.4 L12.9,1.8 M2.4,1.8 L11.4,8.9 M1.1,2.8 L6.0,14.8 M-0.4,3.0 L-1.8,12.9 M-1.8,2.4 L-8.9,11.4 M-2.8,1.1 L-14.8,6.0 M-3.0,-0.4 L-12.9,-1.8 M-2.4,-1.8 L-11.4,-8.9 M-1.1,-2.8 L-6.0,-14.8 M0.4,-3.0 L1.8,-12.9 M1.8,-2.4 L8.9,-11.4 M2.8,-1.1 L14.8,-6.0"/></g><g transform="translate(267.4,799.3) rotate(0)"><path d="M0,-23.2 C11,-23.5 20,-16 21,-4 C22,9 16,23 1,23.3 C-12,23.5 -21,13 -21,0 C-21,-13 -12,-23 0,-23.2 Z"/><path class="h" d="M3.0,0.4 L12.9,1.8 M2.4,1.8 L11.4,8.9 M1.1,2.8 L6.0,14.8 M-0.4,3.0 L-1.8,12.9 M-1.8,2.4 L-8.9,11.4 M-2.8,1.1 L-14.8,6.0 M-3.0,-0.4 L-12.9,-1.8 M-2.4,-1.8 L-11.4,-8.9 M-1.1,-2.8 L-6.0,-14.8 M0.4,-3.0 L1.8,-12.9 M1.8,-2.4 L8.9,-11.4 M2.8,-1.1 L14.8,-6.0"/></g><g transform="translate(677.4,-115.7) rotate(0)"><path d="M0,-23.2 C11,-23.5 20,-16 21,-4 C22,9 16,23 1,23.3 C-12,23.5 -21,13 -21,0 C-21,-13 -12,-23 0,-23.2 Z"/><path class="h" d="M3.0,0.4 L12.9,1.8 M2.4,1.8 L11.4,8.9 M1.1,2.8 L6.0,14.8 M-0.4,3.0 L-1.8,12.9 M-1.8,2.4 L-8.9,11.4 M-2.8,1.1 L-14.8,6.0 M-3.0,-0.4 L-12.9,-1.8 M-2.4,-1.8 L-11.4,-8.9 M-1.1,-2.8 L-6.0,-14.8 M0.4,-3.0 L1.8,-12.9 M1.8,-2.4 L8.9,-11.4 M2.8,-1.1 L14.8,-6.0"/></g><g transform="translate(677.4,189.3) rotate(0)"><path d="M0,-23.2 C11,-23.5 20,-16 21,-4 C22,9 16,23 1,23.3 C-12,23.5 -21,13 -21,0 C-21,-13 -12,-23 0,-23.2 Z"/><path class="h" d="M3.0,0.4 L12.9,1.8 M2.4,1.8 L11.4,8.9 M1.1,2.8 L6.0,14.8 M-0.4,3.0 L-1.8,12.9 M-1.8,2.4 L-8.9,11.4 M-2.8,1.1 L-14.8,6.0 M-3.0,-0.4 L-12.9,-1.8 M-2.4,-1.8 L-11.4,-8.9 M-1.1,-2.8 L-6.0,-14.8 M0.4,-3.0 L1.8,-12.9 M1.8,-2.4 L8.9,-11.4 M2.8,-1.1 L14.8,-6.0"/></g><g transform="translate(677.4,494.3) rotate(0)"><path d="M0,-23.2 C11,-23.5 20,-16 21,-4 C22,9 16,23 1,23.3 C-12,23.5 -21,13 -21,0 C-21,-13 -12,-23 0,-23.2 Z"/><path class="h" d="M3.0,0.4 L12.9,1.8 M2.4,1.8 L11.4,8.9 M1.1,2.8 L6.0,14.8 M-0.4,3.0 L-1.8,12.9 M-1.8,2.4 L-8.9,11.4 M-2.8,1.1 L-14.8,6.0 M-3.0,-0.4 L-12.9,-1.8 M-2.4,-1.8 L-11.4,-8.9 M-1.1,-2.8 L-6.0,-14.8 M0.4,-3.0 L1.8,-12.9 M1.8,-2.4 L8.9,-11.4 M2.8,-1.1 L14.8,-6.0"/></g><g transform="translate(677.4,799.3) rotate(0)"><path d="M0,-23.2 C11,-23.5 20,-16 21,-4 C22,9 16,23 1,23.3 C-12,23.5 -21,13 -21,0 C-21,-13 -12,-23 0,-23.2 Z"/><path class="h" d="M3.0,0.4 L12.9,1.8 M2.4,1.8 L11.4,8.9 M1.1,2.8 L6.0,14.8 M-0.4,3.0 L-1.8,12.9 M-1.8,2.4 L-8.9,11.4 M-2.8,1.1 L-14.8,6.0 M-3.0,-0.4 L-12.9,-1.8 M-2.4,-1.8 L-11.4,-8.9 M-1.1,-2.8 L-6.0,-14.8 M0.4,-3.0 L1.8,-12.9 M1.8,-2.4 L8.9,-11.4 M2.8,-1.1 L14.8,-6.0"/></g></svg>
<div id="card"></div>
<div class="t" style="left:217.50px;top:67.50px;font-size:35.6px;font-weight:700;letter-spacing:0.964px;-webkit-text-stroke:0.8px #141414;">Nutrition Facts</div>
<div class="t" style="left:218.50px;top:111.50px;font-size:21.8px;font-weight:400;letter-spacing:0.536px;">“Radish” Kimchi</div>
<div class="t" style="left:218.50px;top:166.00px;font-size:22.5px;font-weight:400;letter-spacing:-0.127px;">Serving size</div>
<div class="t" style="left:439.00px;top:166.00px;font-size:22.5px;font-weight:400;letter-spacing:0.215px;">1/2 Cup (100g)</div>
<div class="t" style="left:219.50px;top:229.60px;font-size:14.5px;font-weight:400;letter-spacing:0.5px;">Amount per serving</div>
<div class="t" style="left:218.50px;top:248.40px;font-size:31.5px;font-weight:700;letter-spacing:-0.929px;-webkit-text-stroke:0.7px #141414;">Calories</div>
<div class="t" style="left:346.50px;top:262.40px;font-size:14px;font-weight:700;letter-spacing:0.833px;-webkit-text-stroke:0.3px #141414;">kcal</div>
<div class="t" style="left:555.00px;top:250.60px;font-size:28px;width:36px;text-align:right;font-weight:700;-webkit-text-stroke:0.7px #141414;"><span style="display:inline-block;transform:scaleX(1.13);transform-origin:100% 50%">29</span></div>
<div class="t" style="left:217.50px;top:626.00px;font-size:25.4px;font-weight:700;letter-spacing:1.85px;-webkit-text-stroke:0.6px #141414;">Ingredients</div>
<div class="t" style="left:218.50px;top:660.00px;font-size:15.6px;font-weight:400;letter-spacing:0.261px;">Korean Radish, Korean Red Pepper Powder, Apple,</div>
<div class="t" style="left:218.50px;top:684.00px;font-size:15.6px;font-weight:400;letter-spacing:0.117px;">Garlic, Onion, Ginger, Sugar, Fish Sauce (Salted</div>
<div class="t" style="left:219.50px;top:707.50px;font-size:15.6px;font-weight:400;letter-spacing:0.067px;">Anchovies, Salted Baby Shrimp, Sea Salt), Salt</div>
<div class="t" style="left:219.50px;top:308.50px;font-size:23.5px;font-weight:700;letter-spacing:-0.469px;">Total Fat</div>
<div class="t" style="left:548.00px;top:308.50px;font-size:23.2px;font-weight:400;letter-spacing:-0.067px;">0.3g</div>
<div class="t" style="left:247.75px;top:342.56px;font-size:23.2px;font-weight:400;letter-spacing:-0.188px;">Saturated Fat</div>
<div class="t" style="left:548.00px;top:342.56px;font-size:23.2px;font-weight:400;letter-spacing:-0.067px;">0.1g</div>
<div class="t" style="left:248.00px;top:376.62px;font-size:23.2px;font-weight:400;letter-spacing:-0.938px;"><i>Trans</i> Fat</div>
<div class="t" style="left:566.00px;top:376.62px;font-size:23.2px;font-weight:400;letter-spacing:1.0px;">0g</div>
<div class="t" style="left:218.50px;top:410.68px;font-size:23.5px;font-weight:700;letter-spacing:-0.55px;">Cholesterol</div>
<div class="t" style="left:548.00px;top:410.68px;font-size:23.2px;font-weight:400;letter-spacing:-0.1px;">0mg</div>
<div class="t" style="left:218.50px;top:444.74px;font-size:23.5px;font-weight:700;letter-spacing:-1.2px;">Sodium</div>
<div class="t" style="left:521.00px;top:444.74px;font-size:23.2px;font-weight:400;letter-spacing:0.275px;">685mg</div>
<div class="t" style="left:219.50px;top:478.80px;font-size:23.5px;font-weight:700;letter-spacing:-0.5px;">Total Carbohydrate</div>
<div class="t" style="left:548.00px;top:478.80px;font-size:23.2px;font-weight:400;letter-spacing:-0.067px;">6.6g</div>
<div class="t" style="left:247.30px;top:512.86px;font-size:23.2px;font-weight:400;letter-spacing:0.342px;">Dietary Fibre</div>
<div class="t" style="left:547.00px;top:512.86px;font-size:23.2px;font-weight:400;letter-spacing:0.067px;">1.8g</div>
<div class="t" style="left:249.00px;top:546.92px;font-size:23.2px;font-weight:400;letter-spacing:-0.49px;">Total Sugar</div>
<div class="t" style="left:548.00px;top:546.92px;font-size:23.2px;font-weight:400;letter-spacing:-0.067px;">5.7g</div>
<div class="t" style="left:217.50px;top:580.98px;font-size:23.5px;font-weight:700;letter-spacing:0.0px;">Protein</div>
<div class="t" style="left:566.00px;top:580.98px;font-size:23.2px;font-weight:400;letter-spacing:1.0px;">0g</div>
<svg style="position:absolute;left:0;top:0" width="800" height="800"><g fill="#141414" shape-rendering="geometricPrecision"><rect x="219.5" y="149.00" width="371.5" height="4"/><rect x="219.5" y="201.00" width="371.5" height="13.5"/><rect x="219.5" y="294.00" width="371.5" height="5"/><rect x="219.5" y="335.80" width="371.5" height="1.8"/><rect x="219.5" y="370.10" width="371.5" height="1.8"/><rect x="219.5" y="404.40" width="371.5" height="1.8"/><rect x="219.5" y="438.70" width="371.5" height="1.8"/><rect x="219.5" y="473.00" width="371.5" height="1.8"/><rect x="219.5" y="507.30" width="371.5" height="1.8"/><rect x="219.5" y="541.60" width="371.5" height="1.8"/><rect x="219.5" y="575.90" width="371.5" height="1.8"/></g></svg>

</body></html>
